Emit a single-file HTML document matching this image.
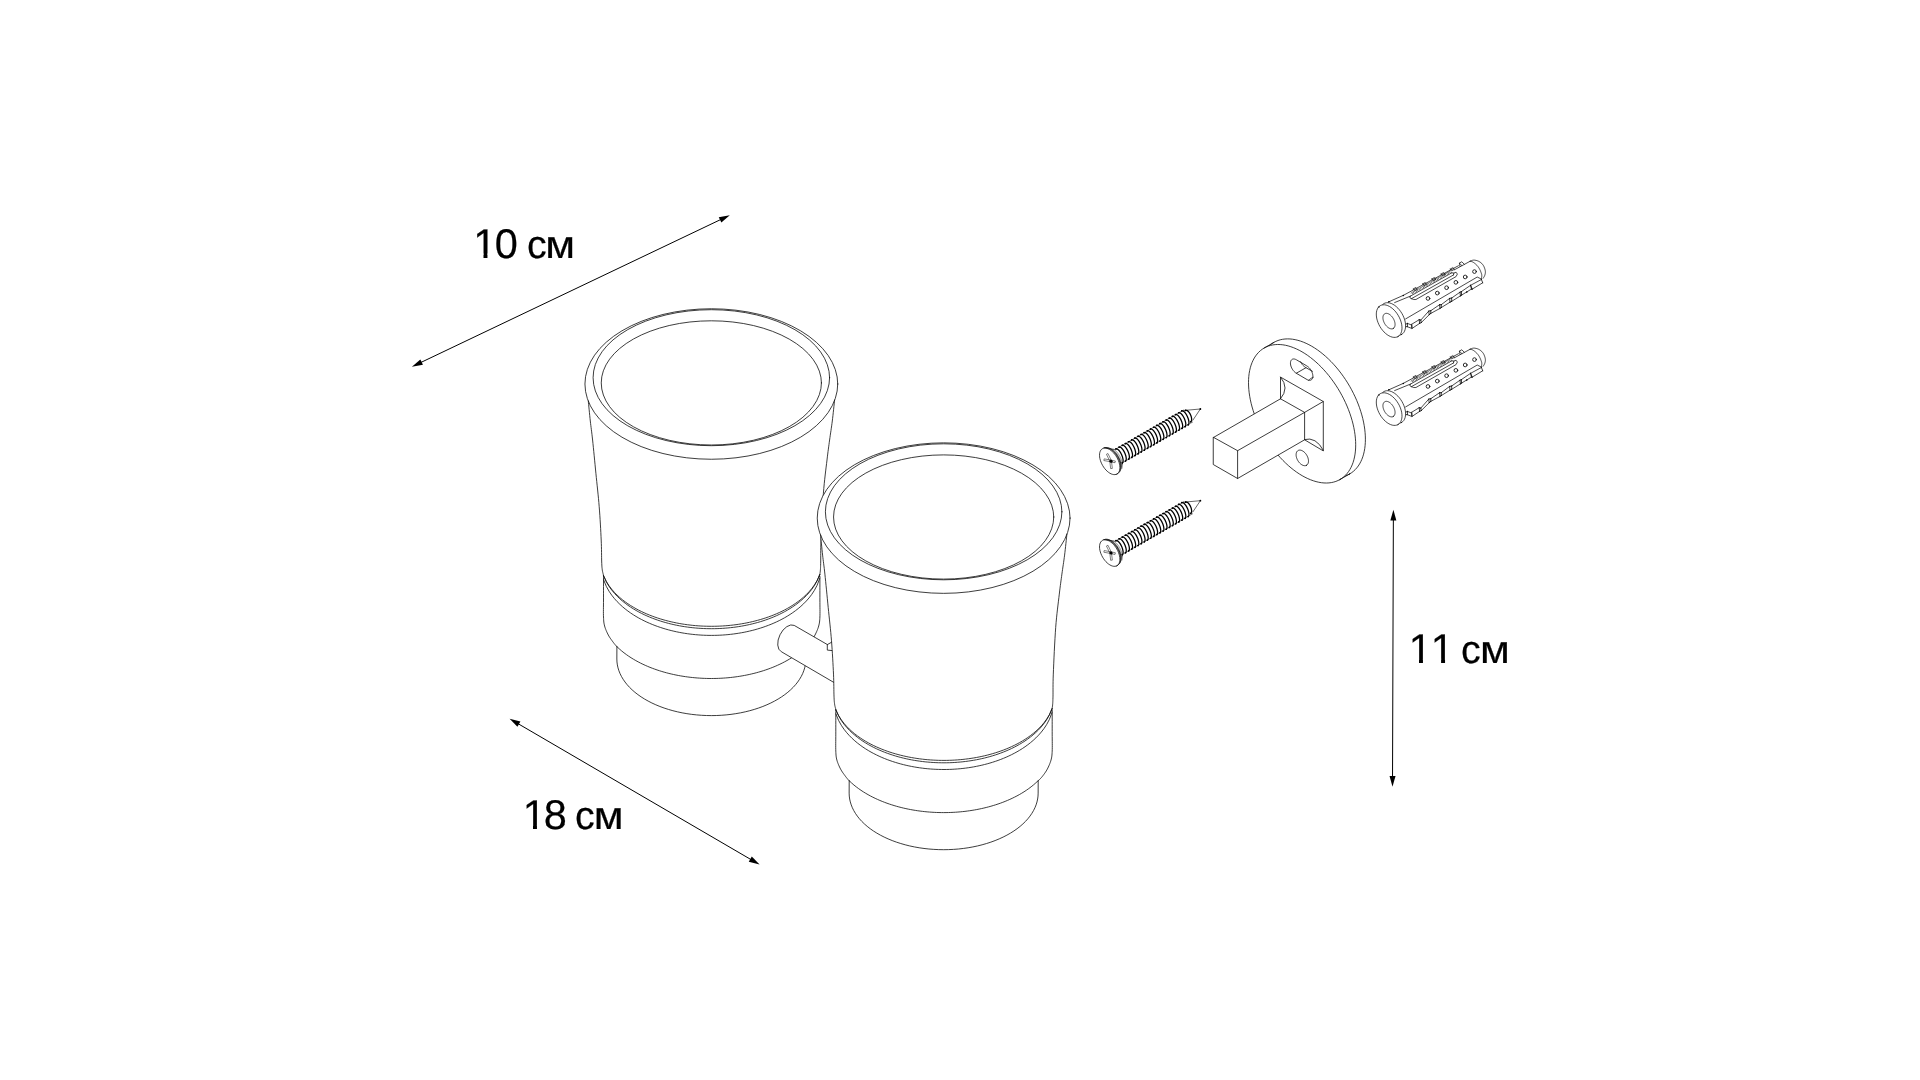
<!DOCTYPE html>
<html lang="ru">
<head>
<meta charset="utf-8">
<title>Держатель двух стаканов — схема</title>
<style>
html,body{margin:0;padding:0;background:#fff;}
body{width:1920px;height:1080px;overflow:hidden;font-family:"Liberation Sans",sans-serif;}
svg{display:block;}
</style>
</head>
<body>
<svg width="1920" height="1080" viewBox="0 0 1920 1080" stroke-linecap="round" stroke-linejoin="round">
<rect width="1920" height="1080" fill="#fff"/>
<g transform="translate(0,0)">
<ellipse cx="711.35" cy="384" rx="126.4" ry="75.25" fill="none" stroke="#111" stroke-width="0.82"/>
<ellipse cx="711.35" cy="377.7" rx="118.25" ry="68" fill="none" stroke="#111" stroke-width="0.82"/>
<ellipse cx="711.35" cy="382.9" rx="110.1" ry="62.1" fill="none" stroke="#111" stroke-width="0.82"/>
<path d="M588.3,401 L588.45,402.55 L588.65,404.62 L588.89,407.08 L589.16,409.81 L589.44,412.69 L589.73,415.6 L590.02,418.41 L590.3,421 L590.57,423.33 L590.83,425.49 L591.1,427.57 L591.37,429.67 L591.65,431.87 L591.95,434.27 L592.26,436.95 L592.6,440 L592.96,443.48 L593.35,447.32 L593.76,451.44 L594.19,455.75 L594.62,460.18 L595.05,464.63 L595.48,469.03 L595.9,473.3 L596.32,477.47 L596.76,481.65 L597.19,485.82 L597.63,490 L598.06,494.18 L598.47,498.35 L598.85,502.53 L599.2,506.7 L599.52,510.94 L599.83,515.3 L600.11,519.69 L600.38,524.06 L600.62,528.34 L600.84,532.47 L601.03,536.38 L601.2,540 L601.33,543.39 L601.43,546.62 L601.49,549.69 L601.54,552.58 L601.57,555.27 L601.6,557.75 L601.64,560 L601.7,562 L601.77,563.69 L601.83,565.05 L601.89,566.14 L601.96,567.04 L602.03,567.81 L602.11,568.52 L602.2,569.22 L602.3,570 L602.43,570.83 L602.59,571.64 L602.76,572.42 L602.94,573.15 L603.11,573.82 L603.27,574.41 L603.4,574.91 L603.5,575.3" fill="none" stroke="#111" stroke-width="0.82"/>
<path d="M834.6,400 L834.43,401.63 L834.2,403.82 L833.92,406.42 L833.62,409.31 L833.29,412.35 L832.96,415.4 L832.62,418.33 L832.3,421 L831.98,423.46 L831.65,425.87 L831.31,428.23 L830.97,430.56 L830.62,432.89 L830.28,435.23 L829.94,437.59 L829.6,440 L829.28,442.36 L828.97,444.62 L828.66,446.84 L828.36,449.11 L828.04,451.48 L827.72,454.04 L827.37,456.86 L827,460 L826.59,463.43 L826.14,467.08 L825.67,470.92 L825.19,474.98 L824.71,479.25 L824.24,483.72 L823.8,488.41 L823.4,493.3 L823.03,498.67 L822.67,504.61 L822.32,510.92 L821.99,517.36 L821.69,523.71 L821.42,529.75 L821.19,535.25 L821,540 L820.86,544.02 L820.78,547.54 L820.74,550.63 L820.73,553.36 L820.73,555.79 L820.73,557.99 L820.73,560.04 L820.7,562 L820.66,563.77 L820.62,565.25 L820.58,566.48 L820.54,567.53 L820.49,568.45 L820.44,569.3 L820.37,570.13 L820.3,571 L820.21,571.89 L820.09,572.75 L819.96,573.56 L819.82,574.31 L819.69,574.99 L819.57,575.59 L819.47,576.1 L819.4,576.5" fill="none" stroke="#111" stroke-width="0.82"/>
<path d="M603.5,575.3 L603.5,577.26 L603.5,579.92 L603.5,583.09 L603.5,586.59 L603.5,590.22 L603.5,593.79 L603.5,597.11 L603.5,600 L603.49,602.55 L603.47,604.98 L603.45,607.29 L603.43,609.48 L603.42,611.55 L603.42,613.49 L603.45,615.31 L603.5,617 L603.57,618.51 L603.64,619.81 L603.72,620.96 L603.82,622 L603.95,622.98 L604.12,623.94 L604.33,624.93 L604.6,626 L604.93,627.14 L605.32,628.3 L605.75,629.46 L606.23,630.62 L606.73,631.77 L607.24,632.89 L607.77,633.97 L608.3,635 L608.85,635.99 L609.42,636.94 L610.02,637.87 L610.64,638.76 L611.25,639.62 L611.86,640.45 L612.44,641.24 L613,642 L613.55,642.74 L614.12,643.47 L614.69,644.17 L615.24,644.84 L615.76,645.45 L616.22,645.99 L616.6,646.44 L616.9,646.8" fill="none" stroke="#111" stroke-width="0.82"/>
<path d="M819.9,576.5 L819.9,578.36 L819.9,580.88 L819.9,583.88 L819.9,587.19 L819.9,590.63 L819.9,594.03 L819.9,597.21 L819.9,600 L819.91,602.49 L819.93,604.89 L819.95,607.2 L819.97,609.41 L819.99,611.5 L819.98,613.46 L819.96,615.3 L819.9,617 L819.82,618.51 L819.74,619.81 L819.65,620.96 L819.53,622 L819.39,622.98 L819.2,623.94 L818.98,624.93 L818.7,626 L818.36,627.14 L817.97,628.3 L817.54,629.46 L817.07,630.62 L816.57,631.77 L816.05,632.89 L815.53,633.97 L815,635 L814.46,635.99 L813.89,636.94 L813.3,637.87 L812.69,638.76 L812.08,639.62 L811.48,640.45 L810.88,641.24 L810.3,642 L809.71,642.74 L809.08,643.47 L808.43,644.17 L807.81,644.84 L807.21,645.45 L806.68,645.99 L806.24,646.44 L805.9,646.8" fill="none" stroke="#111" stroke-width="0.82"/>
<path d="M603.5,575.67 L606.21,581.28 L608.91,585.57 L611.62,589.15 L614.32,592.25 L617.02,595 L619.73,597.47 L622.43,599.73 L625.14,601.8 L627.85,603.71 L630.55,605.49 L633.25,607.14 L635.96,608.69 L638.66,610.13 L641.37,611.48 L644.08,612.75 L646.78,613.94 L649.49,615.06 L652.19,616.11 L654.89,617.09 L657.6,618.01 L660.3,618.88 L663.01,619.68 L665.72,620.44 L668.42,621.14 L671.12,621.79 L673.83,622.39 L676.53,622.95 L679.24,623.46 L681.94,623.93 L684.65,624.35 L687.36,624.73 L690.06,625.06 L692.76,625.36 L695.47,625.61 L698.17,625.83 L700.88,626 L703.59,626.13 L706.29,626.23 L709,626.28 L711.7,626.3 L714.4,626.28 L717.11,626.21 L719.81,626.11 L722.52,625.97 L725.23,625.79 L727.93,625.57 L730.63,625.31 L733.34,625 L736.04,624.66 L738.75,624.27 L741.45,623.84 L744.16,623.37 L746.87,622.85 L749.57,622.29 L752.27,621.67 L754.98,621.01 L757.68,620.3 L760.39,619.54 L763.1,618.72 L765.8,617.85 L768.5,616.91 L771.21,615.92 L773.91,614.86 L776.62,613.73 L779.33,612.52 L782.03,611.24 L784.74,609.87 L787.44,608.41 L790.14,606.85 L792.85,605.17 L795.55,603.37 L798.26,601.43 L800.96,599.33 L803.67,597.03 L806.38,594.51 L809.08,591.7 L811.78,588.53 L814.49,584.84 L817.19,580.37 L819.9,574.37" fill="none" stroke="#111" stroke-width="0.82"/>
<path d="M603.7,576.04 L606.4,581.97 L609.1,586.47 L611.8,590.2 L614.5,593.43 L617.2,596.28 L619.9,598.85 L622.6,601.19 L625.3,603.34 L628,605.33 L630.7,607.17 L633.4,608.88 L636.1,610.48 L638.8,611.97 L641.5,613.37 L644.2,614.69 L646.9,615.92 L649.6,617.07 L652.3,618.16 L655,619.18 L657.7,620.13 L660.4,621.02 L663.1,621.86 L665.8,622.64 L668.5,623.36 L671.2,624.04 L673.9,624.66 L676.6,625.24 L679.3,625.76 L682,626.25 L684.7,626.68 L687.4,627.07 L690.1,627.42 L692.8,627.73 L695.5,627.99 L698.2,628.21 L700.9,628.39 L703.6,628.53 L706.3,628.63 L709,628.68 L711.7,628.7 L714.4,628.68 L717.1,628.61 L719.8,628.51 L722.5,628.36 L725.2,628.17 L727.9,627.94 L730.6,627.67 L733.3,627.36 L736,627 L738.7,626.6 L741.4,626.16 L744.1,625.67 L746.8,625.13 L749.5,624.55 L752.2,623.92 L754.9,623.23 L757.6,622.5 L760.3,621.71 L763,620.86 L765.7,619.96 L768.4,618.99 L771.1,617.96 L773.8,616.86 L776.5,615.69 L779.2,614.45 L781.9,613.12 L784.6,611.7 L787.3,610.19 L790,608.57 L792.7,606.84 L795.4,604.97 L798.1,602.96 L800.8,600.78 L803.5,598.4 L806.2,595.78 L808.9,592.86 L811.6,589.55 L814.3,585.71 L817,581.01 L819.7,574.64" fill="none" stroke="#111" stroke-width="0.82"/>
<path d="M603.6,579.78 L606.3,586.35 L609,591.19 L611.71,595.16 L614.41,598.57 L617.11,601.58 L619.82,604.28 L622.52,606.74 L625.22,608.99 L627.92,611.06 L630.62,612.98 L633.33,614.77 L636.03,616.44 L638.73,618 L641.44,619.46 L644.14,620.82 L646.84,622.11 L649.54,623.31 L652.25,624.44 L654.95,625.5 L657.65,626.49 L660.35,627.42 L663.06,628.29 L665.76,629.1 L668.46,629.85 L671.16,630.55 L673.87,631.2 L676.57,631.8 L679.27,632.35 L681.97,632.85 L684.67,633.3 L687.38,633.71 L690.08,634.07 L692.78,634.39 L695.49,634.66 L698.19,634.89 L700.89,635.08 L703.59,635.22 L706.29,635.32 L709,635.38 L711.7,635.4 L714.4,635.37 L717.11,635.31 L719.81,635.2 L722.51,635.05 L725.21,634.85 L727.91,634.61 L730.62,634.33 L733.32,634.01 L736.02,633.64 L738.72,633.22 L741.43,632.76 L744.13,632.25 L746.83,631.69 L749.53,631.09 L752.24,630.43 L754.94,629.72 L757.64,628.95 L760.35,628.13 L763.05,627.25 L765.75,626.31 L768.45,625.31 L771.15,624.24 L773.86,623.09 L776.56,621.88 L779.26,620.58 L781.96,619.19 L784.67,617.72 L787.37,616.14 L790.07,614.45 L792.77,612.64 L795.48,610.69 L798.18,608.58 L800.88,606.3 L803.59,603.8 L806.29,601.05 L808.99,597.98 L811.69,594.48 L814.39,590.38 L817.1,585.31 L819.8,578.17" fill="none" stroke="#111" stroke-width="0.82"/>
<path d="M616.9,646.61 L619.26,648.84 L621.62,650.9 L623.99,652.8 L626.35,654.56 L628.71,656.21 L631.07,657.76 L633.44,659.21 L635.8,660.58 L638.16,661.87 L640.52,663.09 L642.89,664.24 L645.25,665.33 L647.61,666.36 L649.98,667.33 L652.34,668.25 L654.7,669.12 L657.06,669.95 L659.42,670.72 L661.79,671.46 L664.15,672.15 L666.51,672.8 L668.88,673.41 L671.24,673.98 L673.6,674.51 L675.96,675.01 L678.32,675.47 L680.69,675.9 L683.05,676.29 L685.41,676.65 L687.77,676.97 L690.14,677.27 L692.5,677.53 L694.86,677.76 L697.23,677.96 L699.59,678.12 L701.95,678.26 L704.31,678.37 L706.67,678.44 L709.04,678.49 L711.4,678.5 L713.76,678.48 L716.12,678.44 L718.49,678.36 L720.85,678.25 L723.21,678.12 L725.57,677.95 L727.94,677.75 L730.3,677.52 L732.66,677.26 L735.02,676.96 L737.39,676.63 L739.75,676.27 L742.11,675.88 L744.48,675.45 L746.84,674.99 L749.2,674.49 L751.56,673.95 L753.92,673.38 L756.29,672.77 L758.65,672.12 L761.01,671.43 L763.38,670.69 L765.74,669.91 L768.1,669.09 L770.46,668.22 L772.83,667.29 L775.19,666.32 L777.55,665.28 L779.91,664.19 L782.27,663.04 L784.64,661.82 L787,660.53 L789.36,659.15 L791.72,657.7 L794.09,656.15 L796.45,654.49 L798.81,652.72 L801.17,650.81 L803.54,648.75 L805.9,646.51" fill="none" stroke="#111" stroke-width="0.82"/>
<path d="M616.9,646.8 L616.85,659 L616.98,661.96 L617.37,664.92 L618.01,667.85 L618.92,670.77 L620.07,673.65 L621.48,676.49 L623.13,679.28 L625.02,682.02 L627.15,684.7 L629.51,687.3 L632.1,689.83 L634.9,692.27 L637.91,694.62 L641.12,696.87 L644.53,699.02 L648.12,701.06 L651.88,702.99 L655.8,704.79 L659.88,706.47 L664.1,708.02 L668.45,709.43 L672.91,710.71 L677.48,711.84 L682.15,712.83 L686.89,713.67 L691.7,714.36 L696.57,714.9 L701.47,715.29 L706.4,715.52 L711.35,715.6 L716.3,715.52 L721.23,715.29 L726.13,714.9 L731,714.36 L735.81,713.67 L740.55,712.83 L745.22,711.84 L749.79,710.71 L754.25,709.43 L758.6,708.02 L762.82,706.47 L766.9,704.79 L770.82,702.99 L774.58,701.06 L778.17,699.02 L781.58,696.87 L784.79,694.62 L787.8,692.27 L790.6,689.83 L793.19,687.3 L795.55,684.7 L797.68,682.02 L799.57,679.28 L801.22,676.49 L802.63,673.65 L803.78,670.77 L804.69,667.85 L805.33,664.92 L805.72,661.96 L805.85,659 L805.9,646.8" fill="none" stroke="#111" stroke-width="0.82"/>
</g>
<path d="M794.2,625.4 A14.65,8.8 116.1 0 0 781.3,651.7 L845,688.8 L845,655 Z" fill="#fff" stroke="none"/>
<path d="M827.4,644.6 L794.2,625.4 A14.65,8.8 116.1 0 0 781.3,651.7 L835,683.1" fill="none" stroke="#111" stroke-width="0.82"/>
<path d="M831.8,642.1 L827.3,644.6 L827.3,650.1 L832.5,650.6" fill="none" stroke="#111" stroke-width="0.82"/>
<g transform="translate(232.3,134.1)">
<path d="M588.3,401 L588.45,402.55 L588.65,404.62 L588.89,407.08 L589.16,409.81 L589.44,412.69 L589.73,415.6 L590.02,418.41 L590.3,421 L590.57,423.33 L590.83,425.49 L591.1,427.57 L591.37,429.67 L591.65,431.87 L591.95,434.27 L592.26,436.95 L592.6,440 L592.96,443.48 L593.35,447.32 L593.76,451.44 L594.19,455.75 L594.62,460.18 L595.05,464.63 L595.48,469.03 L595.9,473.3 L596.32,477.47 L596.76,481.65 L597.19,485.82 L597.63,490 L598.06,494.18 L598.47,498.35 L598.85,502.53 L599.2,506.7 L599.52,510.94 L599.83,515.3 L600.11,519.69 L600.38,524.06 L600.62,528.34 L600.84,532.47 L601.03,536.38 L601.2,540 L601.33,543.39 L601.43,546.62 L601.49,549.69 L601.54,552.58 L601.57,555.27 L601.6,557.75 L601.64,560 L601.7,562 L601.77,563.69 L601.83,565.05 L601.89,566.14 L601.96,567.04 L602.03,567.81 L602.11,568.52 L602.2,569.22 L602.3,570 L602.43,570.83 L602.59,571.64 L602.76,572.42 L602.94,573.15 L603.11,573.82 L603.27,574.41 L603.4,574.91 L603.5,575.3 L603.5,577.26 L603.5,579.92 L603.5,583.09 L603.5,586.59 L603.5,590.22 L603.5,593.79 L603.5,597.11 L603.5,600 L603.49,602.55 L603.47,604.98 L603.45,607.29 L603.43,609.48 L603.42,611.55 L603.42,613.49 L603.45,615.31 L603.5,617 L603.57,618.51 L603.64,619.81 L603.72,620.96 L603.82,622 L603.95,622.98 L604.12,623.94 L604.33,624.93 L604.6,626 L604.93,627.14 L605.32,628.3 L605.75,629.46 L606.23,630.62 L606.73,631.77 L607.24,632.89 L607.77,633.97 L608.3,635 L608.85,635.99 L609.42,636.94 L610.02,637.87 L610.64,638.76 L611.25,639.62 L611.86,640.45 L612.44,641.24 L613,642 L613.55,642.74 L614.12,643.47 L614.69,644.17 L615.24,644.84 L615.76,645.45 L616.22,645.99 L616.6,646.44 L616.9,646.8 L616.85,659 L616.98,661.96 L617.37,664.92 L618.01,667.85 L618.92,670.77 L620.07,673.65 L621.48,676.49 L623.13,679.28 L625.02,682.02 L627.15,684.7 L629.51,687.3 L632.1,689.83 L634.9,692.27 L637.91,694.62 L641.12,696.87 L644.53,699.02 L648.12,701.06 L651.88,702.99 L655.8,704.79 L659.88,706.47 L664.1,708.02 L668.45,709.43 L672.91,710.71 L677.48,711.84 L682.15,712.83 L686.89,713.67 L691.7,714.36 L696.57,714.9 L701.47,715.29 L706.4,715.52 L711.35,715.6 L716.3,715.52 L721.23,715.29 L726.13,714.9 L731,714.36 L735.81,713.67 L740.55,712.83 L745.22,711.84 L749.79,710.71 L754.25,709.43 L758.6,708.02 L762.82,706.47 L766.9,704.79 L770.82,702.99 L774.58,701.06 L778.17,699.02 L781.58,696.87 L784.79,694.62 L787.8,692.27 L790.6,689.83 L793.19,687.3 L795.55,684.7 L797.68,682.02 L799.57,679.28 L801.22,676.49 L802.63,673.65 L803.78,670.77 L804.69,667.85 L805.33,664.92 L805.72,661.96 L805.85,659 L805.9,646.8 L806.24,646.44 L806.68,645.99 L807.21,645.45 L807.81,644.84 L808.43,644.17 L809.08,643.47 L809.71,642.74 L810.3,642 L810.88,641.24 L811.48,640.45 L812.08,639.62 L812.69,638.76 L813.3,637.87 L813.89,636.94 L814.46,635.99 L815,635 L815.53,633.97 L816.05,632.89 L816.57,631.77 L817.07,630.62 L817.54,629.46 L817.97,628.3 L818.36,627.14 L818.7,626 L818.98,624.93 L819.2,623.94 L819.39,622.98 L819.53,622 L819.65,620.96 L819.74,619.81 L819.82,618.51 L819.9,617 L819.96,615.3 L819.98,613.46 L819.99,611.5 L819.97,609.41 L819.95,607.2 L819.93,604.89 L819.91,602.49 L819.9,600 L819.9,597.21 L819.9,594.03 L819.9,590.63 L819.9,587.19 L819.9,583.88 L819.9,580.88 L819.9,578.36 L819.9,576.5 L819.4,576.5 L819.47,576.1 L819.57,575.59 L819.69,574.99 L819.82,574.31 L819.96,573.56 L820.09,572.75 L820.21,571.89 L820.3,571 L820.37,570.13 L820.44,569.3 L820.49,568.45 L820.54,567.53 L820.58,566.48 L820.62,565.25 L820.66,563.77 L820.7,562 L820.73,560.04 L820.73,557.99 L820.73,555.79 L820.73,553.36 L820.74,550.63 L820.78,547.54 L820.86,544.02 L821,540 L821.19,535.25 L821.42,529.75 L821.69,523.71 L821.99,517.36 L822.32,510.92 L822.67,504.61 L823.03,498.67 L823.4,493.3 L823.8,488.41 L824.24,483.72 L824.71,479.25 L825.19,474.98 L825.67,470.92 L826.14,467.08 L826.59,463.43 L827,460 L827.37,456.86 L827.72,454.04 L828.04,451.48 L828.36,449.11 L828.66,446.84 L828.97,444.62 L829.28,442.36 L829.6,440 L829.94,437.59 L830.28,435.23 L830.62,432.89 L830.97,430.56 L831.31,428.23 L831.65,425.87 L831.98,423.46 L832.3,421 L832.62,418.33 L832.96,415.4 L833.29,412.35 L833.62,409.31 L833.92,406.42 L834.2,403.82 L834.43,401.63 L834.6,400Z" fill="#fff" stroke="none"/>
<ellipse cx="711.35" cy="384" rx="126.4" ry="75.25" fill="#fff" stroke="#111" stroke-width="0.82"/>
<ellipse cx="711.35" cy="377.7" rx="118.25" ry="68" fill="none" stroke="#111" stroke-width="0.82"/>
<ellipse cx="711.35" cy="382.9" rx="110.1" ry="62.1" fill="none" stroke="#111" stroke-width="0.82"/>
<path d="M588.3,401 L588.45,402.55 L588.65,404.62 L588.89,407.08 L589.16,409.81 L589.44,412.69 L589.73,415.6 L590.02,418.41 L590.3,421 L590.57,423.33 L590.83,425.49 L591.1,427.57 L591.37,429.67 L591.65,431.87 L591.95,434.27 L592.26,436.95 L592.6,440 L592.96,443.48 L593.35,447.32 L593.76,451.44 L594.19,455.75 L594.62,460.18 L595.05,464.63 L595.48,469.03 L595.9,473.3 L596.32,477.47 L596.76,481.65 L597.19,485.82 L597.63,490 L598.06,494.18 L598.47,498.35 L598.85,502.53 L599.2,506.7 L599.52,510.94 L599.83,515.3 L600.11,519.69 L600.38,524.06 L600.62,528.34 L600.84,532.47 L601.03,536.38 L601.2,540 L601.33,543.39 L601.43,546.62 L601.49,549.69 L601.54,552.58 L601.57,555.27 L601.6,557.75 L601.64,560 L601.7,562 L601.77,563.69 L601.83,565.05 L601.89,566.14 L601.96,567.04 L602.03,567.81 L602.11,568.52 L602.2,569.22 L602.3,570 L602.43,570.83 L602.59,571.64 L602.76,572.42 L602.94,573.15 L603.11,573.82 L603.27,574.41 L603.4,574.91 L603.5,575.3" fill="none" stroke="#111" stroke-width="0.82"/>
<path d="M834.6,400 L834.43,401.63 L834.2,403.82 L833.92,406.42 L833.62,409.31 L833.29,412.35 L832.96,415.4 L832.62,418.33 L832.3,421 L831.98,423.46 L831.65,425.87 L831.31,428.23 L830.97,430.56 L830.62,432.89 L830.28,435.23 L829.94,437.59 L829.6,440 L829.28,442.36 L828.97,444.62 L828.66,446.84 L828.36,449.11 L828.04,451.48 L827.72,454.04 L827.37,456.86 L827,460 L826.59,463.43 L826.14,467.08 L825.67,470.92 L825.19,474.98 L824.71,479.25 L824.24,483.72 L823.8,488.41 L823.4,493.3 L823.03,498.67 L822.67,504.61 L822.32,510.92 L821.99,517.36 L821.69,523.71 L821.42,529.75 L821.19,535.25 L821,540 L820.86,544.02 L820.78,547.54 L820.74,550.63 L820.73,553.36 L820.73,555.79 L820.73,557.99 L820.73,560.04 L820.7,562 L820.66,563.77 L820.62,565.25 L820.58,566.48 L820.54,567.53 L820.49,568.45 L820.44,569.3 L820.37,570.13 L820.3,571 L820.21,571.89 L820.09,572.75 L819.96,573.56 L819.82,574.31 L819.69,574.99 L819.57,575.59 L819.47,576.1 L819.4,576.5" fill="none" stroke="#111" stroke-width="0.82"/>
<path d="M603.5,575.3 L603.5,577.26 L603.5,579.92 L603.5,583.09 L603.5,586.59 L603.5,590.22 L603.5,593.79 L603.5,597.11 L603.5,600 L603.49,602.55 L603.47,604.98 L603.45,607.29 L603.43,609.48 L603.42,611.55 L603.42,613.49 L603.45,615.31 L603.5,617 L603.57,618.51 L603.64,619.81 L603.72,620.96 L603.82,622 L603.95,622.98 L604.12,623.94 L604.33,624.93 L604.6,626 L604.93,627.14 L605.32,628.3 L605.75,629.46 L606.23,630.62 L606.73,631.77 L607.24,632.89 L607.77,633.97 L608.3,635 L608.85,635.99 L609.42,636.94 L610.02,637.87 L610.64,638.76 L611.25,639.62 L611.86,640.45 L612.44,641.24 L613,642 L613.55,642.74 L614.12,643.47 L614.69,644.17 L615.24,644.84 L615.76,645.45 L616.22,645.99 L616.6,646.44 L616.9,646.8" fill="none" stroke="#111" stroke-width="0.82"/>
<path d="M819.9,576.5 L819.9,578.36 L819.9,580.88 L819.9,583.88 L819.9,587.19 L819.9,590.63 L819.9,594.03 L819.9,597.21 L819.9,600 L819.91,602.49 L819.93,604.89 L819.95,607.2 L819.97,609.41 L819.99,611.5 L819.98,613.46 L819.96,615.3 L819.9,617 L819.82,618.51 L819.74,619.81 L819.65,620.96 L819.53,622 L819.39,622.98 L819.2,623.94 L818.98,624.93 L818.7,626 L818.36,627.14 L817.97,628.3 L817.54,629.46 L817.07,630.62 L816.57,631.77 L816.05,632.89 L815.53,633.97 L815,635 L814.46,635.99 L813.89,636.94 L813.3,637.87 L812.69,638.76 L812.08,639.62 L811.48,640.45 L810.88,641.24 L810.3,642 L809.71,642.74 L809.08,643.47 L808.43,644.17 L807.81,644.84 L807.21,645.45 L806.68,645.99 L806.24,646.44 L805.9,646.8" fill="none" stroke="#111" stroke-width="0.82"/>
<path d="M603.5,575.67 L606.21,581.28 L608.91,585.57 L611.62,589.15 L614.32,592.25 L617.02,595 L619.73,597.47 L622.43,599.73 L625.14,601.8 L627.85,603.71 L630.55,605.49 L633.25,607.14 L635.96,608.69 L638.66,610.13 L641.37,611.48 L644.08,612.75 L646.78,613.94 L649.49,615.06 L652.19,616.11 L654.89,617.09 L657.6,618.01 L660.3,618.88 L663.01,619.68 L665.72,620.44 L668.42,621.14 L671.12,621.79 L673.83,622.39 L676.53,622.95 L679.24,623.46 L681.94,623.93 L684.65,624.35 L687.36,624.73 L690.06,625.06 L692.76,625.36 L695.47,625.61 L698.17,625.83 L700.88,626 L703.59,626.13 L706.29,626.23 L709,626.28 L711.7,626.3 L714.4,626.28 L717.11,626.21 L719.81,626.11 L722.52,625.97 L725.23,625.79 L727.93,625.57 L730.63,625.31 L733.34,625 L736.04,624.66 L738.75,624.27 L741.45,623.84 L744.16,623.37 L746.87,622.85 L749.57,622.29 L752.27,621.67 L754.98,621.01 L757.68,620.3 L760.39,619.54 L763.1,618.72 L765.8,617.85 L768.5,616.91 L771.21,615.92 L773.91,614.86 L776.62,613.73 L779.33,612.52 L782.03,611.24 L784.74,609.87 L787.44,608.41 L790.14,606.85 L792.85,605.17 L795.55,603.37 L798.26,601.43 L800.96,599.33 L803.67,597.03 L806.38,594.51 L809.08,591.7 L811.78,588.53 L814.49,584.84 L817.19,580.37 L819.9,574.37" fill="none" stroke="#111" stroke-width="0.82"/>
<path d="M603.7,576.04 L606.4,581.97 L609.1,586.47 L611.8,590.2 L614.5,593.43 L617.2,596.28 L619.9,598.85 L622.6,601.19 L625.3,603.34 L628,605.33 L630.7,607.17 L633.4,608.88 L636.1,610.48 L638.8,611.97 L641.5,613.37 L644.2,614.69 L646.9,615.92 L649.6,617.07 L652.3,618.16 L655,619.18 L657.7,620.13 L660.4,621.02 L663.1,621.86 L665.8,622.64 L668.5,623.36 L671.2,624.04 L673.9,624.66 L676.6,625.24 L679.3,625.76 L682,626.25 L684.7,626.68 L687.4,627.07 L690.1,627.42 L692.8,627.73 L695.5,627.99 L698.2,628.21 L700.9,628.39 L703.6,628.53 L706.3,628.63 L709,628.68 L711.7,628.7 L714.4,628.68 L717.1,628.61 L719.8,628.51 L722.5,628.36 L725.2,628.17 L727.9,627.94 L730.6,627.67 L733.3,627.36 L736,627 L738.7,626.6 L741.4,626.16 L744.1,625.67 L746.8,625.13 L749.5,624.55 L752.2,623.92 L754.9,623.23 L757.6,622.5 L760.3,621.71 L763,620.86 L765.7,619.96 L768.4,618.99 L771.1,617.96 L773.8,616.86 L776.5,615.69 L779.2,614.45 L781.9,613.12 L784.6,611.7 L787.3,610.19 L790,608.57 L792.7,606.84 L795.4,604.97 L798.1,602.96 L800.8,600.78 L803.5,598.4 L806.2,595.78 L808.9,592.86 L811.6,589.55 L814.3,585.71 L817,581.01 L819.7,574.64" fill="none" stroke="#111" stroke-width="0.82"/>
<path d="M603.6,579.78 L606.3,586.35 L609,591.19 L611.71,595.16 L614.41,598.57 L617.11,601.58 L619.82,604.28 L622.52,606.74 L625.22,608.99 L627.92,611.06 L630.62,612.98 L633.33,614.77 L636.03,616.44 L638.73,618 L641.44,619.46 L644.14,620.82 L646.84,622.11 L649.54,623.31 L652.25,624.44 L654.95,625.5 L657.65,626.49 L660.35,627.42 L663.06,628.29 L665.76,629.1 L668.46,629.85 L671.16,630.55 L673.87,631.2 L676.57,631.8 L679.27,632.35 L681.97,632.85 L684.67,633.3 L687.38,633.71 L690.08,634.07 L692.78,634.39 L695.49,634.66 L698.19,634.89 L700.89,635.08 L703.59,635.22 L706.29,635.32 L709,635.38 L711.7,635.4 L714.4,635.37 L717.11,635.31 L719.81,635.2 L722.51,635.05 L725.21,634.85 L727.91,634.61 L730.62,634.33 L733.32,634.01 L736.02,633.64 L738.72,633.22 L741.43,632.76 L744.13,632.25 L746.83,631.69 L749.53,631.09 L752.24,630.43 L754.94,629.72 L757.64,628.95 L760.35,628.13 L763.05,627.25 L765.75,626.31 L768.45,625.31 L771.15,624.24 L773.86,623.09 L776.56,621.88 L779.26,620.58 L781.96,619.19 L784.67,617.72 L787.37,616.14 L790.07,614.45 L792.77,612.64 L795.48,610.69 L798.18,608.58 L800.88,606.3 L803.59,603.8 L806.29,601.05 L808.99,597.98 L811.69,594.48 L814.39,590.38 L817.1,585.31 L819.8,578.17" fill="none" stroke="#111" stroke-width="0.82"/>
<path d="M616.9,646.61 L619.26,648.84 L621.62,650.9 L623.99,652.8 L626.35,654.56 L628.71,656.21 L631.07,657.76 L633.44,659.21 L635.8,660.58 L638.16,661.87 L640.52,663.09 L642.89,664.24 L645.25,665.33 L647.61,666.36 L649.98,667.33 L652.34,668.25 L654.7,669.12 L657.06,669.95 L659.42,670.72 L661.79,671.46 L664.15,672.15 L666.51,672.8 L668.88,673.41 L671.24,673.98 L673.6,674.51 L675.96,675.01 L678.32,675.47 L680.69,675.9 L683.05,676.29 L685.41,676.65 L687.77,676.97 L690.14,677.27 L692.5,677.53 L694.86,677.76 L697.23,677.96 L699.59,678.12 L701.95,678.26 L704.31,678.37 L706.67,678.44 L709.04,678.49 L711.4,678.5 L713.76,678.48 L716.12,678.44 L718.49,678.36 L720.85,678.25 L723.21,678.12 L725.57,677.95 L727.94,677.75 L730.3,677.52 L732.66,677.26 L735.02,676.96 L737.39,676.63 L739.75,676.27 L742.11,675.88 L744.48,675.45 L746.84,674.99 L749.2,674.49 L751.56,673.95 L753.92,673.38 L756.29,672.77 L758.65,672.12 L761.01,671.43 L763.38,670.69 L765.74,669.91 L768.1,669.09 L770.46,668.22 L772.83,667.29 L775.19,666.32 L777.55,665.28 L779.91,664.19 L782.27,663.04 L784.64,661.82 L787,660.53 L789.36,659.15 L791.72,657.7 L794.09,656.15 L796.45,654.49 L798.81,652.72 L801.17,650.81 L803.54,648.75 L805.9,646.51" fill="none" stroke="#111" stroke-width="0.82"/>
<path d="M616.9,646.8 L616.85,659 L616.98,661.96 L617.37,664.92 L618.01,667.85 L618.92,670.77 L620.07,673.65 L621.48,676.49 L623.13,679.28 L625.02,682.02 L627.15,684.7 L629.51,687.3 L632.1,689.83 L634.9,692.27 L637.91,694.62 L641.12,696.87 L644.53,699.02 L648.12,701.06 L651.88,702.99 L655.8,704.79 L659.88,706.47 L664.1,708.02 L668.45,709.43 L672.91,710.71 L677.48,711.84 L682.15,712.83 L686.89,713.67 L691.7,714.36 L696.57,714.9 L701.47,715.29 L706.4,715.52 L711.35,715.6 L716.3,715.52 L721.23,715.29 L726.13,714.9 L731,714.36 L735.81,713.67 L740.55,712.83 L745.22,711.84 L749.79,710.71 L754.25,709.43 L758.6,708.02 L762.82,706.47 L766.9,704.79 L770.82,702.99 L774.58,701.06 L778.17,699.02 L781.58,696.87 L784.79,694.62 L787.8,692.27 L790.6,689.83 L793.19,687.3 L795.55,684.7 L797.68,682.02 L799.57,679.28 L801.22,676.49 L802.63,673.65 L803.78,670.77 L804.69,667.85 L805.33,664.92 L805.72,661.96 L805.85,659 L805.9,646.8" fill="none" stroke="#111" stroke-width="0.82"/>
</g>
<line x1="419.7" y1="363.03" x2="722" y2="218.92" stroke="#000" stroke-width="1"/>
<polygon points="411.9,366.75 422.94,364.81 420.36,359.39" fill="#000"/>
<polygon points="729.8,215.2 721.34,222.56 718.76,217.14" fill="#000"/>
<line x1="517.06" y1="723.1" x2="752.14" y2="860.25" stroke="#000" stroke-width="1"/>
<polygon points="509.6,718.75 517.42,726.78 520.44,721.6" fill="#000"/>
<polygon points="759.6,864.6 748.76,861.75 751.78,856.57" fill="#000"/>
<line x1="1393.37" y1="518.44" x2="1392.53" y2="778.11" stroke="#000" stroke-width="1"/>
<polygon points="1393.4,509.8 1390.36,520.59 1396.36,520.61" fill="#000"/>
<polygon points="1392.5,786.75 1389.54,775.94 1395.54,775.96" fill="#000"/>
<g style="filter:grayscale(1)">
<clipPath id="c1"><path d="M0,0H1920V1080H0Z M475.36,253.6H483.49V258.9H475.36Z M487.45,253.6H495.25V258.9H487.45Z" clip-rule="evenodd"/></clipPath>
<text y="257.9" x="473.2 494.66 517" font-family="'Liberation Sans', sans-serif" font-size="41.5" fill="#000" clip-path="url(#c1)" stroke="#000" stroke-width="0.22" stroke-linejoin="miter" text-rendering="geometricPrecision">10 <tspan font-size="39.4" x="526.93">с</tspan><tspan font-size="39.4" x="545.39" textLength="29.8" lengthAdjust="spacingAndGlyphs">м</tspan></text>
<clipPath id="c2"><path d="M0,0H1920V1080H0Z M524.86,824.7H532.99V830H524.86Z M536.95,824.7H544.75V830H536.95Z" clip-rule="evenodd"/></clipPath>
<text y="829" x="522.7 543.81 566" font-family="'Liberation Sans', sans-serif" font-size="41.5" fill="#000" clip-path="url(#c2)" stroke="#000" stroke-width="0.22" stroke-linejoin="miter" text-rendering="geometricPrecision">18 <tspan font-size="39.4" x="575.03">с</tspan><tspan font-size="39.4" x="593.89" textLength="29.8" lengthAdjust="spacingAndGlyphs">м</tspan></text>
<clipPath id="c3"><path d="M0,0H1920V1080H0Z M1410.86,658.6H1418.99V663.9H1410.86Z M1422.95,658.6H1430.75V663.9H1422.95Z M1432.96,658.6H1441.09V663.9H1432.96Z M1445.05,658.6H1452.85V663.9H1445.05Z" clip-rule="evenodd"/></clipPath>
<text y="662.9" x="1408.7 1430.8 1452" font-family="'Liberation Sans', sans-serif" font-size="41.5" fill="#000" clip-path="url(#c3)" stroke="#000" stroke-width="0.22" stroke-linejoin="miter" text-rendering="geometricPrecision">11 <tspan font-size="39.4" x="1460.88">с</tspan><tspan font-size="39.4" x="1480.09" textLength="29.8" lengthAdjust="spacingAndGlyphs">м</tspan></text>
</g>
<g transform="translate(0,0)">
<path d="M1118.17,473.03 L1118.87,472.54 L1119.48,471.91 L1119.99,471.17 L1120.41,470.31 L1120.72,469.34 L1120.93,468.27 L1121.02,467.13 L1121.01,465.91 L1120.89,464.63 L1120.66,463.31 L1120.33,461.95 L1119.89,460.59 L1119.35,459.22 L1118.73,457.87 L1118.01,456.55 L1117.23,455.27 L1116.37,454.05 L1115.45,452.91 L1114.49,451.85 L1113.49,450.88 L1112.46,450.02 L1111.41,449.27 L1110.36,448.65 L1109.32,448.17 L1108.29,447.81 L1107.3,447.6 L1106.34,447.53 L1105.44,447.6 L1104.6,447.82 L1103.82,448.17" fill="none" stroke="#000" stroke-width="0.8"/>
<path d="M1117.64,473.51 L1118.34,473.01 L1118.95,472.39 L1119.47,471.63 L1119.89,470.76 L1120.2,469.79 L1120.41,468.71 L1120.5,467.56 L1120.49,466.32 L1120.36,465.03 L1120.13,463.7 L1119.79,462.33 L1119.35,460.95 L1118.8,459.57 L1118.17,458.21 L1117.45,456.88 L1116.65,455.58 L1115.79,454.35 L1114.87,453.19 L1113.89,452.12 L1112.88,451.14 L1111.84,450.27 L1110.79,449.52 L1109.73,448.89 L1108.68,448.4 L1107.64,448.04 L1106.64,447.82 L1105.68,447.75 L1104.77,447.82 L1103.92,448.04 L1103.14,448.39" fill="none" stroke="#000" stroke-width="0.5"/>
<path d="M1117,473.99 L1117.86,473.35 L1118.59,472.5 L1119.16,471.46 L1119.57,470.25 L1119.81,468.89 L1119.88,467.39 L1119.78,465.79 L1119.5,464.12 L1119.05,462.4 L1118.45,460.66 L1117.69,458.94 L1116.8,457.25 L1115.79,455.63 L1114.67,454.12 L1113.47,452.72 L1112.2,451.48 L1110.89,450.4 L1109.56,449.51 L1108.23,448.82 L1106.93,448.35 L1105.67,448.1 L1104.49,448.08 L1103.39,448.28 L1102.4,448.71 L1101.54,449.35 L1100.81,450.2 L1100.24,451.24 L1099.83,452.45 L1099.59,453.81 L1099.52,455.31 L1099.62,456.91 L1099.9,458.58 L1100.35,460.3 L1100.95,462.04 L1101.71,463.76 L1102.6,465.45 L1103.61,467.07 L1104.73,468.58 L1105.93,469.98 L1107.2,471.22 L1108.51,472.3 L1109.84,473.19 L1111.17,473.88 L1112.47,474.35 L1113.73,474.6 L1114.91,474.62 L1116.01,474.42 L1117,473.99Z" fill="#fff" stroke="#000" stroke-width="0.75"/>
<path d="M1120.56,468.69 L1120.77,467.97 L1120.87,467.1 L1120.84,466.1 L1120.69,464.97 L1120.41,463.74 L1120.03,462.43 L1119.53,461.06 L1118.94,459.66 L1118.25,458.25 L1117.49,456.85 L1116.66,455.49 L1115.78,454.19 L1114.86,452.98 L1113.93,451.87 L1112.99,450.88 L1112.06,450.03 L1111.16,449.33 L1110.3,448.8 L1109.5,448.45 L1108.78,448.28" fill="none" stroke="#222" stroke-width="0.45"/>
<path d="M1121.13,466.57 L1121.32,465.95 L1121.4,465.2 L1121.37,464.32 L1121.24,463.34 L1121,462.27 L1120.67,461.14 L1120.24,459.95 L1119.72,458.73 L1119.12,457.51 L1118.46,456.29 L1117.74,455.11 L1116.98,453.98 L1116.18,452.92 L1115.37,451.96 L1114.55,451.1 L1113.75,450.36 L1112.96,449.76 L1112.22,449.3 L1111.52,448.99 L1110.89,448.84" fill="none" stroke="#222" stroke-width="0.45"/>
<path d="M1121.81,464.62 L1121.98,464.08 L1122.05,463.42 L1122.02,462.66 L1121.91,461.81 L1121.7,460.89 L1121.41,459.9 L1121.04,458.87 L1120.59,457.81 L1120.07,456.75 L1119.5,455.69 L1118.87,454.67 L1118.21,453.69 L1117.52,452.77 L1116.81,451.93 L1116.1,451.19 L1115.4,450.55 L1114.72,450.02 L1114.08,449.62 L1113.48,449.36 L1112.93,449.23" fill="none" stroke="#222" stroke-width="0.45"/>
<path d="M1104.28,447.97 L1114.99,449.52" fill="none" stroke="#000" stroke-width="0.5"/>
<path d="M1121.86,468.42 L1122.59,462.68" fill="none" stroke="#000" stroke-width="0.5"/>
<path d="M1115.95,448.97 L1116.47,448.83 L1117.1,448.97 L1117.81,449.37 L1118.57,450.03 L1119.35,450.91 L1120.12,451.98 L1120.85,453.2 L1121.52,454.53 L1122.1,455.9 L1122.56,457.28 L1122.89,458.61 L1123.08,459.83 L1123.12,460.9 L1123,461.78 L1122.74,462.43 L1122.33,462.83" fill="none" stroke="#000" stroke-width="1.28"/>
<circle cx="1115.95" cy="448.97" r="0.85" fill="#000"/>
<circle cx="1122.33" cy="462.83" r="0.85" fill="#000"/>
<path d="M1119.08,447.16 L1119.61,447.02 L1120.24,447.16 L1120.94,447.56 L1121.7,448.22 L1122.48,449.1 L1123.25,450.17 L1123.99,451.39 L1124.66,452.72 L1125.23,454.09 L1125.7,455.47 L1126.03,456.8 L1126.22,458.02 L1126.25,459.09 L1126.14,459.97 L1125.87,460.62 L1125.47,461.02" fill="none" stroke="#000" stroke-width="1.28"/>
<circle cx="1119.08" cy="447.16" r="0.85" fill="#000"/>
<circle cx="1125.47" cy="461.02" r="0.85" fill="#000"/>
<path d="M1122.22,445.35 L1122.74,445.21 L1123.37,445.35 L1124.08,445.75 L1124.84,446.41 L1125.62,447.29 L1126.39,448.36 L1127.12,449.58 L1127.79,450.91 L1128.37,452.28 L1128.83,453.66 L1129.16,454.99 L1129.35,456.21 L1129.39,457.28 L1129.27,458.16 L1129.01,458.81 L1128.6,459.21" fill="none" stroke="#000" stroke-width="1.28"/>
<circle cx="1122.22" cy="445.35" r="0.85" fill="#000"/>
<circle cx="1128.6" cy="459.21" r="0.85" fill="#000"/>
<path d="M1125.35,443.54 L1125.88,443.4 L1126.51,443.54 L1127.21,443.94 L1127.97,444.6 L1128.75,445.48 L1129.52,446.55 L1130.26,447.77 L1130.93,449.1 L1131.5,450.47 L1131.97,451.85 L1132.3,453.18 L1132.49,454.4 L1132.52,455.47 L1132.41,456.35 L1132.14,457 L1131.74,457.4" fill="none" stroke="#000" stroke-width="1.28"/>
<circle cx="1125.35" cy="443.54" r="0.85" fill="#000"/>
<circle cx="1131.74" cy="457.4" r="0.85" fill="#000"/>
<path d="M1128.49,441.73 L1129.01,441.59 L1129.64,441.73 L1130.35,442.13 L1131.11,442.79 L1131.89,443.67 L1132.66,444.74 L1133.39,445.96 L1134.06,447.29 L1134.64,448.66 L1135.1,450.04 L1135.43,451.37 L1135.62,452.59 L1135.66,453.66 L1135.54,454.54 L1135.28,455.19 L1134.87,455.59" fill="none" stroke="#000" stroke-width="1.28"/>
<circle cx="1128.49" cy="441.73" r="0.85" fill="#000"/>
<circle cx="1134.87" cy="455.59" r="0.85" fill="#000"/>
<path d="M1131.62,439.92 L1132.15,439.78 L1132.78,439.92 L1133.48,440.32 L1134.24,440.98 L1135.02,441.86 L1135.79,442.93 L1136.53,444.15 L1137.2,445.48 L1137.77,446.85 L1138.24,448.23 L1138.57,449.56 L1138.76,450.78 L1138.79,451.85 L1138.68,452.73 L1138.41,453.38 L1138.01,453.78" fill="none" stroke="#000" stroke-width="1.28"/>
<circle cx="1131.62" cy="439.92" r="0.85" fill="#000"/>
<circle cx="1138.01" cy="453.78" r="0.85" fill="#000"/>
<path d="M1134.76,438.11 L1135.28,437.97 L1135.91,438.11 L1136.62,438.51 L1137.38,439.17 L1138.16,440.05 L1138.93,441.12 L1139.66,442.34 L1140.33,443.67 L1140.91,445.04 L1141.37,446.42 L1141.7,447.75 L1141.89,448.97 L1141.93,450.04 L1141.81,450.92 L1141.55,451.57 L1141.14,451.97" fill="none" stroke="#000" stroke-width="1.28"/>
<circle cx="1134.76" cy="438.11" r="0.85" fill="#000"/>
<circle cx="1141.14" cy="451.97" r="0.85" fill="#000"/>
<path d="M1137.89,436.3 L1138.42,436.16 L1139.05,436.3 L1139.75,436.7 L1140.51,437.36 L1141.29,438.24 L1142.06,439.31 L1142.8,440.53 L1143.47,441.86 L1144.04,443.23 L1144.51,444.61 L1144.84,445.94 L1145.03,447.16 L1145.06,448.23 L1144.95,449.11 L1144.68,449.76 L1144.28,450.16" fill="none" stroke="#000" stroke-width="1.28"/>
<circle cx="1137.89" cy="436.3" r="0.85" fill="#000"/>
<circle cx="1144.28" cy="450.16" r="0.85" fill="#000"/>
<path d="M1141.03,434.49 L1141.55,434.35 L1142.18,434.49 L1142.89,434.89 L1143.65,435.55 L1144.43,436.43 L1145.2,437.5 L1145.93,438.72 L1146.6,440.05 L1147.18,441.42 L1147.64,442.8 L1147.97,444.13 L1148.16,445.35 L1148.2,446.42 L1148.08,447.3 L1147.82,447.95 L1147.41,448.35" fill="none" stroke="#000" stroke-width="1.28"/>
<circle cx="1141.03" cy="434.49" r="0.85" fill="#000"/>
<circle cx="1147.41" cy="448.35" r="0.85" fill="#000"/>
<path d="M1144.16,432.68 L1144.69,432.54 L1145.32,432.68 L1146.02,433.08 L1146.78,433.74 L1147.56,434.62 L1148.33,435.69 L1149.07,436.91 L1149.74,438.24 L1150.31,439.61 L1150.78,440.99 L1151.11,442.32 L1151.3,443.54 L1151.33,444.61 L1151.22,445.49 L1150.95,446.14 L1150.55,446.54" fill="none" stroke="#000" stroke-width="1.28"/>
<circle cx="1144.16" cy="432.68" r="0.85" fill="#000"/>
<circle cx="1150.55" cy="446.54" r="0.85" fill="#000"/>
<path d="M1147.3,430.87 L1147.82,430.73 L1148.45,430.87 L1149.16,431.27 L1149.92,431.93 L1150.7,432.81 L1151.47,433.88 L1152.2,435.1 L1152.87,436.43 L1153.45,437.8 L1153.91,439.18 L1154.24,440.51 L1154.43,441.73 L1154.47,442.8 L1154.35,443.68 L1154.09,444.33 L1153.68,444.73" fill="none" stroke="#000" stroke-width="1.28"/>
<circle cx="1147.3" cy="430.87" r="0.85" fill="#000"/>
<circle cx="1153.68" cy="444.73" r="0.85" fill="#000"/>
<path d="M1150.43,429.06 L1150.96,428.92 L1151.59,429.06 L1152.29,429.46 L1153.05,430.12 L1153.83,431 L1154.6,432.07 L1155.34,433.29 L1156.01,434.62 L1156.58,435.99 L1157.05,437.37 L1157.38,438.7 L1157.57,439.92 L1157.6,440.99 L1157.49,441.87 L1157.22,442.52 L1156.82,442.92" fill="none" stroke="#000" stroke-width="1.28"/>
<circle cx="1150.43" cy="429.06" r="0.85" fill="#000"/>
<circle cx="1156.82" cy="442.92" r="0.85" fill="#000"/>
<path d="M1153.57,427.25 L1154.09,427.11 L1154.72,427.25 L1155.43,427.65 L1156.19,428.31 L1156.97,429.19 L1157.74,430.26 L1158.47,431.48 L1159.14,432.81 L1159.72,434.18 L1160.18,435.56 L1160.51,436.89 L1160.7,438.11 L1160.74,439.18 L1160.62,440.06 L1160.36,440.71 L1159.95,441.11" fill="none" stroke="#000" stroke-width="1.28"/>
<circle cx="1153.57" cy="427.25" r="0.85" fill="#000"/>
<circle cx="1159.95" cy="441.11" r="0.85" fill="#000"/>
<path d="M1156.7,425.44 L1157.23,425.3 L1157.86,425.44 L1158.56,425.84 L1159.32,426.5 L1160.1,427.38 L1160.87,428.45 L1161.61,429.67 L1162.28,431 L1162.85,432.37 L1163.32,433.75 L1163.65,435.08 L1163.84,436.3 L1163.87,437.37 L1163.76,438.25 L1163.49,438.9 L1163.09,439.3" fill="none" stroke="#000" stroke-width="1.28"/>
<circle cx="1156.7" cy="425.44" r="0.85" fill="#000"/>
<circle cx="1163.09" cy="439.3" r="0.85" fill="#000"/>
<path d="M1159.84,423.63 L1160.36,423.49 L1160.99,423.63 L1161.7,424.03 L1162.46,424.69 L1163.24,425.57 L1164.01,426.64 L1164.74,427.86 L1165.41,429.19 L1165.99,430.56 L1166.45,431.94 L1166.78,433.27 L1166.97,434.49 L1167.01,435.56 L1166.89,436.44 L1166.63,437.09 L1166.22,437.49" fill="none" stroke="#000" stroke-width="1.28"/>
<circle cx="1159.84" cy="423.63" r="0.85" fill="#000"/>
<circle cx="1166.22" cy="437.49" r="0.85" fill="#000"/>
<path d="M1162.97,421.82 L1163.5,421.68 L1164.13,421.82 L1164.83,422.22 L1165.59,422.88 L1166.37,423.76 L1167.14,424.83 L1167.88,426.05 L1168.55,427.38 L1169.12,428.75 L1169.59,430.13 L1169.92,431.46 L1170.11,432.68 L1170.14,433.75 L1170.03,434.63 L1169.76,435.28 L1169.36,435.68" fill="none" stroke="#000" stroke-width="1.28"/>
<circle cx="1162.97" cy="421.82" r="0.85" fill="#000"/>
<circle cx="1169.36" cy="435.68" r="0.85" fill="#000"/>
<path d="M1166.11,420.01 L1166.63,419.87 L1167.26,420.01 L1167.97,420.41 L1168.73,421.07 L1169.51,421.95 L1170.28,423.02 L1171.01,424.24 L1171.68,425.57 L1172.26,426.94 L1172.72,428.32 L1173.05,429.65 L1173.24,430.87 L1173.28,431.94 L1173.16,432.82 L1172.9,433.47 L1172.49,433.87" fill="none" stroke="#000" stroke-width="1.28"/>
<circle cx="1166.11" cy="420.01" r="0.85" fill="#000"/>
<circle cx="1172.49" cy="433.87" r="0.85" fill="#000"/>
<path d="M1169.24,418.2 L1169.77,418.06 L1170.4,418.2 L1171.1,418.6 L1171.86,419.26 L1172.64,420.14 L1173.41,421.21 L1174.15,422.43 L1174.82,423.76 L1175.39,425.13 L1175.86,426.51 L1176.19,427.84 L1176.38,429.06 L1176.41,430.13 L1176.3,431.01 L1176.03,431.66 L1175.63,432.06" fill="none" stroke="#000" stroke-width="1.28"/>
<circle cx="1169.24" cy="418.2" r="0.85" fill="#000"/>
<circle cx="1175.63" cy="432.06" r="0.85" fill="#000"/>
<path d="M1172.38,416.39 L1172.9,416.25 L1173.53,416.39 L1174.24,416.79 L1175,417.45 L1175.78,418.33 L1176.55,419.4 L1177.28,420.62 L1177.95,421.95 L1178.53,423.32 L1178.99,424.7 L1179.32,426.03 L1179.51,427.25 L1179.55,428.32 L1179.43,429.2 L1179.17,429.85 L1178.76,430.25" fill="none" stroke="#000" stroke-width="1.28"/>
<circle cx="1172.38" cy="416.39" r="0.85" fill="#000"/>
<circle cx="1178.76" cy="430.25" r="0.85" fill="#000"/>
<path d="M1175.51,414.58 L1176.04,414.44 L1176.67,414.58 L1177.37,414.98 L1178.13,415.64 L1178.91,416.52 L1179.68,417.59 L1180.42,418.81 L1181.09,420.14 L1181.66,421.51 L1182.13,422.89 L1182.46,424.22 L1182.65,425.44 L1182.68,426.51 L1182.57,427.39 L1182.3,428.04 L1181.9,428.44" fill="none" stroke="#000" stroke-width="1.28"/>
<circle cx="1175.51" cy="414.58" r="0.85" fill="#000"/>
<circle cx="1181.9" cy="428.44" r="0.85" fill="#000"/>
<path d="M1178.65,412.77 L1179.17,412.63 L1179.8,412.77 L1180.51,413.17 L1181.27,413.83 L1182.05,414.71 L1182.82,415.78 L1183.55,417 L1184.22,418.33 L1184.8,419.7 L1185.26,421.08 L1185.59,422.41 L1185.78,423.63 L1185.82,424.7 L1185.7,425.58 L1185.44,426.23 L1185.03,426.63" fill="none" stroke="#000" stroke-width="1.28"/>
<circle cx="1178.65" cy="412.77" r="0.85" fill="#000"/>
<circle cx="1185.03" cy="426.63" r="0.85" fill="#000"/>
<path d="M1181.78,410.96 L1182.31,410.82 L1182.94,410.96 L1183.64,411.36 L1184.4,412.02 L1185.18,412.9 L1185.95,413.97 L1186.69,415.19 L1187.36,416.52 L1187.93,417.89 L1188.4,419.27 L1188.73,420.6 L1188.92,421.82 L1188.95,422.89 L1188.84,423.77 L1188.57,424.42 L1188.17,424.82" fill="none" stroke="#000" stroke-width="1.28"/>
<circle cx="1181.78" cy="410.96" r="0.85" fill="#000"/>
<circle cx="1188.17" cy="424.82" r="0.85" fill="#000"/>
<path d="M1185.51,410.43 L1186.02,410.27 L1186.62,410.34 L1187.27,410.62 L1187.95,411.12 L1188.64,411.8 L1189.31,412.65 L1189.94,413.63 L1190.49,414.71 L1190.95,415.83 L1191.31,416.97 L1191.54,418.07 L1191.63,419.1 L1191.6,420.01 L1191.42,420.77 L1191.13,421.35 L1190.71,421.73" fill="none" stroke="#000" stroke-width="1.28"/>
<circle cx="1185.51" cy="410.43" r="0.85" fill="#000"/>
<circle cx="1190.71" cy="421.73" r="0.85" fill="#000"/>
<path d="M1115.86,449.02 L1183.41,410.02" fill="none" stroke="#000" stroke-width="0.45"/>
<path d="M1122.16,462.93 L1192.67,422.05" fill="none" stroke="#000" stroke-width="0.45"/>
<path d="M1183.68,410.48 L1200.37,409 L1192.86,420.18" fill="none" stroke="#000" stroke-width="0.6"/>
<circle cx="1200.37" cy="409" r="0.9" fill="#000"/>
<path d="M1111.36,460.53 L1107.96,453.53 L1106.44,454.27 L1109.84,461.27" fill="none" stroke="#000" stroke-width="0.5"/>
<path d="M1109.76,461 L1110.66,468.6 L1112.34,468.4 L1111.44,460.8" fill="none" stroke="#000" stroke-width="0.5"/>
<path d="M1110.75,460.06 L1104.15,458.86 L1103.85,460.54 L1110.45,461.74" fill="none" stroke="#000" stroke-width="0.5"/>
<path d="M1110.42,461.73 L1115.02,462.73 L1115.38,461.07 L1110.78,460.07" fill="none" stroke="#000" stroke-width="0.5"/>
<circle cx="1111.1" cy="461.2" r="1.5" fill="#000"/>
</g>
<g transform="translate(0,91.7)">
<path d="M1118.17,473.03 L1118.87,472.54 L1119.48,471.91 L1119.99,471.17 L1120.41,470.31 L1120.72,469.34 L1120.93,468.27 L1121.02,467.13 L1121.01,465.91 L1120.89,464.63 L1120.66,463.31 L1120.33,461.95 L1119.89,460.59 L1119.35,459.22 L1118.73,457.87 L1118.01,456.55 L1117.23,455.27 L1116.37,454.05 L1115.45,452.91 L1114.49,451.85 L1113.49,450.88 L1112.46,450.02 L1111.41,449.27 L1110.36,448.65 L1109.32,448.17 L1108.29,447.81 L1107.3,447.6 L1106.34,447.53 L1105.44,447.6 L1104.6,447.82 L1103.82,448.17" fill="none" stroke="#000" stroke-width="0.8"/>
<path d="M1117.64,473.51 L1118.34,473.01 L1118.95,472.39 L1119.47,471.63 L1119.89,470.76 L1120.2,469.79 L1120.41,468.71 L1120.5,467.56 L1120.49,466.32 L1120.36,465.03 L1120.13,463.7 L1119.79,462.33 L1119.35,460.95 L1118.8,459.57 L1118.17,458.21 L1117.45,456.88 L1116.65,455.58 L1115.79,454.35 L1114.87,453.19 L1113.89,452.12 L1112.88,451.14 L1111.84,450.27 L1110.79,449.52 L1109.73,448.89 L1108.68,448.4 L1107.64,448.04 L1106.64,447.82 L1105.68,447.75 L1104.77,447.82 L1103.92,448.04 L1103.14,448.39" fill="none" stroke="#000" stroke-width="0.5"/>
<path d="M1117,473.99 L1117.86,473.35 L1118.59,472.5 L1119.16,471.46 L1119.57,470.25 L1119.81,468.89 L1119.88,467.39 L1119.78,465.79 L1119.5,464.12 L1119.05,462.4 L1118.45,460.66 L1117.69,458.94 L1116.8,457.25 L1115.79,455.63 L1114.67,454.12 L1113.47,452.72 L1112.2,451.48 L1110.89,450.4 L1109.56,449.51 L1108.23,448.82 L1106.93,448.35 L1105.67,448.1 L1104.49,448.08 L1103.39,448.28 L1102.4,448.71 L1101.54,449.35 L1100.81,450.2 L1100.24,451.24 L1099.83,452.45 L1099.59,453.81 L1099.52,455.31 L1099.62,456.91 L1099.9,458.58 L1100.35,460.3 L1100.95,462.04 L1101.71,463.76 L1102.6,465.45 L1103.61,467.07 L1104.73,468.58 L1105.93,469.98 L1107.2,471.22 L1108.51,472.3 L1109.84,473.19 L1111.17,473.88 L1112.47,474.35 L1113.73,474.6 L1114.91,474.62 L1116.01,474.42 L1117,473.99Z" fill="#fff" stroke="#000" stroke-width="0.75"/>
<path d="M1120.56,468.69 L1120.77,467.97 L1120.87,467.1 L1120.84,466.1 L1120.69,464.97 L1120.41,463.74 L1120.03,462.43 L1119.53,461.06 L1118.94,459.66 L1118.25,458.25 L1117.49,456.85 L1116.66,455.49 L1115.78,454.19 L1114.86,452.98 L1113.93,451.87 L1112.99,450.88 L1112.06,450.03 L1111.16,449.33 L1110.3,448.8 L1109.5,448.45 L1108.78,448.28" fill="none" stroke="#222" stroke-width="0.45"/>
<path d="M1121.13,466.57 L1121.32,465.95 L1121.4,465.2 L1121.37,464.32 L1121.24,463.34 L1121,462.27 L1120.67,461.14 L1120.24,459.95 L1119.72,458.73 L1119.12,457.51 L1118.46,456.29 L1117.74,455.11 L1116.98,453.98 L1116.18,452.92 L1115.37,451.96 L1114.55,451.1 L1113.75,450.36 L1112.96,449.76 L1112.22,449.3 L1111.52,448.99 L1110.89,448.84" fill="none" stroke="#222" stroke-width="0.45"/>
<path d="M1121.81,464.62 L1121.98,464.08 L1122.05,463.42 L1122.02,462.66 L1121.91,461.81 L1121.7,460.89 L1121.41,459.9 L1121.04,458.87 L1120.59,457.81 L1120.07,456.75 L1119.5,455.69 L1118.87,454.67 L1118.21,453.69 L1117.52,452.77 L1116.81,451.93 L1116.1,451.19 L1115.4,450.55 L1114.72,450.02 L1114.08,449.62 L1113.48,449.36 L1112.93,449.23" fill="none" stroke="#222" stroke-width="0.45"/>
<path d="M1104.28,447.97 L1114.99,449.52" fill="none" stroke="#000" stroke-width="0.5"/>
<path d="M1121.86,468.42 L1122.59,462.68" fill="none" stroke="#000" stroke-width="0.5"/>
<path d="M1115.95,448.97 L1116.47,448.83 L1117.1,448.97 L1117.81,449.37 L1118.57,450.03 L1119.35,450.91 L1120.12,451.98 L1120.85,453.2 L1121.52,454.53 L1122.1,455.9 L1122.56,457.28 L1122.89,458.61 L1123.08,459.83 L1123.12,460.9 L1123,461.78 L1122.74,462.43 L1122.33,462.83" fill="none" stroke="#000" stroke-width="1.28"/>
<circle cx="1115.95" cy="448.97" r="0.85" fill="#000"/>
<circle cx="1122.33" cy="462.83" r="0.85" fill="#000"/>
<path d="M1119.08,447.16 L1119.61,447.02 L1120.24,447.16 L1120.94,447.56 L1121.7,448.22 L1122.48,449.1 L1123.25,450.17 L1123.99,451.39 L1124.66,452.72 L1125.23,454.09 L1125.7,455.47 L1126.03,456.8 L1126.22,458.02 L1126.25,459.09 L1126.14,459.97 L1125.87,460.62 L1125.47,461.02" fill="none" stroke="#000" stroke-width="1.28"/>
<circle cx="1119.08" cy="447.16" r="0.85" fill="#000"/>
<circle cx="1125.47" cy="461.02" r="0.85" fill="#000"/>
<path d="M1122.22,445.35 L1122.74,445.21 L1123.37,445.35 L1124.08,445.75 L1124.84,446.41 L1125.62,447.29 L1126.39,448.36 L1127.12,449.58 L1127.79,450.91 L1128.37,452.28 L1128.83,453.66 L1129.16,454.99 L1129.35,456.21 L1129.39,457.28 L1129.27,458.16 L1129.01,458.81 L1128.6,459.21" fill="none" stroke="#000" stroke-width="1.28"/>
<circle cx="1122.22" cy="445.35" r="0.85" fill="#000"/>
<circle cx="1128.6" cy="459.21" r="0.85" fill="#000"/>
<path d="M1125.35,443.54 L1125.88,443.4 L1126.51,443.54 L1127.21,443.94 L1127.97,444.6 L1128.75,445.48 L1129.52,446.55 L1130.26,447.77 L1130.93,449.1 L1131.5,450.47 L1131.97,451.85 L1132.3,453.18 L1132.49,454.4 L1132.52,455.47 L1132.41,456.35 L1132.14,457 L1131.74,457.4" fill="none" stroke="#000" stroke-width="1.28"/>
<circle cx="1125.35" cy="443.54" r="0.85" fill="#000"/>
<circle cx="1131.74" cy="457.4" r="0.85" fill="#000"/>
<path d="M1128.49,441.73 L1129.01,441.59 L1129.64,441.73 L1130.35,442.13 L1131.11,442.79 L1131.89,443.67 L1132.66,444.74 L1133.39,445.96 L1134.06,447.29 L1134.64,448.66 L1135.1,450.04 L1135.43,451.37 L1135.62,452.59 L1135.66,453.66 L1135.54,454.54 L1135.28,455.19 L1134.87,455.59" fill="none" stroke="#000" stroke-width="1.28"/>
<circle cx="1128.49" cy="441.73" r="0.85" fill="#000"/>
<circle cx="1134.87" cy="455.59" r="0.85" fill="#000"/>
<path d="M1131.62,439.92 L1132.15,439.78 L1132.78,439.92 L1133.48,440.32 L1134.24,440.98 L1135.02,441.86 L1135.79,442.93 L1136.53,444.15 L1137.2,445.48 L1137.77,446.85 L1138.24,448.23 L1138.57,449.56 L1138.76,450.78 L1138.79,451.85 L1138.68,452.73 L1138.41,453.38 L1138.01,453.78" fill="none" stroke="#000" stroke-width="1.28"/>
<circle cx="1131.62" cy="439.92" r="0.85" fill="#000"/>
<circle cx="1138.01" cy="453.78" r="0.85" fill="#000"/>
<path d="M1134.76,438.11 L1135.28,437.97 L1135.91,438.11 L1136.62,438.51 L1137.38,439.17 L1138.16,440.05 L1138.93,441.12 L1139.66,442.34 L1140.33,443.67 L1140.91,445.04 L1141.37,446.42 L1141.7,447.75 L1141.89,448.97 L1141.93,450.04 L1141.81,450.92 L1141.55,451.57 L1141.14,451.97" fill="none" stroke="#000" stroke-width="1.28"/>
<circle cx="1134.76" cy="438.11" r="0.85" fill="#000"/>
<circle cx="1141.14" cy="451.97" r="0.85" fill="#000"/>
<path d="M1137.89,436.3 L1138.42,436.16 L1139.05,436.3 L1139.75,436.7 L1140.51,437.36 L1141.29,438.24 L1142.06,439.31 L1142.8,440.53 L1143.47,441.86 L1144.04,443.23 L1144.51,444.61 L1144.84,445.94 L1145.03,447.16 L1145.06,448.23 L1144.95,449.11 L1144.68,449.76 L1144.28,450.16" fill="none" stroke="#000" stroke-width="1.28"/>
<circle cx="1137.89" cy="436.3" r="0.85" fill="#000"/>
<circle cx="1144.28" cy="450.16" r="0.85" fill="#000"/>
<path d="M1141.03,434.49 L1141.55,434.35 L1142.18,434.49 L1142.89,434.89 L1143.65,435.55 L1144.43,436.43 L1145.2,437.5 L1145.93,438.72 L1146.6,440.05 L1147.18,441.42 L1147.64,442.8 L1147.97,444.13 L1148.16,445.35 L1148.2,446.42 L1148.08,447.3 L1147.82,447.95 L1147.41,448.35" fill="none" stroke="#000" stroke-width="1.28"/>
<circle cx="1141.03" cy="434.49" r="0.85" fill="#000"/>
<circle cx="1147.41" cy="448.35" r="0.85" fill="#000"/>
<path d="M1144.16,432.68 L1144.69,432.54 L1145.32,432.68 L1146.02,433.08 L1146.78,433.74 L1147.56,434.62 L1148.33,435.69 L1149.07,436.91 L1149.74,438.24 L1150.31,439.61 L1150.78,440.99 L1151.11,442.32 L1151.3,443.54 L1151.33,444.61 L1151.22,445.49 L1150.95,446.14 L1150.55,446.54" fill="none" stroke="#000" stroke-width="1.28"/>
<circle cx="1144.16" cy="432.68" r="0.85" fill="#000"/>
<circle cx="1150.55" cy="446.54" r="0.85" fill="#000"/>
<path d="M1147.3,430.87 L1147.82,430.73 L1148.45,430.87 L1149.16,431.27 L1149.92,431.93 L1150.7,432.81 L1151.47,433.88 L1152.2,435.1 L1152.87,436.43 L1153.45,437.8 L1153.91,439.18 L1154.24,440.51 L1154.43,441.73 L1154.47,442.8 L1154.35,443.68 L1154.09,444.33 L1153.68,444.73" fill="none" stroke="#000" stroke-width="1.28"/>
<circle cx="1147.3" cy="430.87" r="0.85" fill="#000"/>
<circle cx="1153.68" cy="444.73" r="0.85" fill="#000"/>
<path d="M1150.43,429.06 L1150.96,428.92 L1151.59,429.06 L1152.29,429.46 L1153.05,430.12 L1153.83,431 L1154.6,432.07 L1155.34,433.29 L1156.01,434.62 L1156.58,435.99 L1157.05,437.37 L1157.38,438.7 L1157.57,439.92 L1157.6,440.99 L1157.49,441.87 L1157.22,442.52 L1156.82,442.92" fill="none" stroke="#000" stroke-width="1.28"/>
<circle cx="1150.43" cy="429.06" r="0.85" fill="#000"/>
<circle cx="1156.82" cy="442.92" r="0.85" fill="#000"/>
<path d="M1153.57,427.25 L1154.09,427.11 L1154.72,427.25 L1155.43,427.65 L1156.19,428.31 L1156.97,429.19 L1157.74,430.26 L1158.47,431.48 L1159.14,432.81 L1159.72,434.18 L1160.18,435.56 L1160.51,436.89 L1160.7,438.11 L1160.74,439.18 L1160.62,440.06 L1160.36,440.71 L1159.95,441.11" fill="none" stroke="#000" stroke-width="1.28"/>
<circle cx="1153.57" cy="427.25" r="0.85" fill="#000"/>
<circle cx="1159.95" cy="441.11" r="0.85" fill="#000"/>
<path d="M1156.7,425.44 L1157.23,425.3 L1157.86,425.44 L1158.56,425.84 L1159.32,426.5 L1160.1,427.38 L1160.87,428.45 L1161.61,429.67 L1162.28,431 L1162.85,432.37 L1163.32,433.75 L1163.65,435.08 L1163.84,436.3 L1163.87,437.37 L1163.76,438.25 L1163.49,438.9 L1163.09,439.3" fill="none" stroke="#000" stroke-width="1.28"/>
<circle cx="1156.7" cy="425.44" r="0.85" fill="#000"/>
<circle cx="1163.09" cy="439.3" r="0.85" fill="#000"/>
<path d="M1159.84,423.63 L1160.36,423.49 L1160.99,423.63 L1161.7,424.03 L1162.46,424.69 L1163.24,425.57 L1164.01,426.64 L1164.74,427.86 L1165.41,429.19 L1165.99,430.56 L1166.45,431.94 L1166.78,433.27 L1166.97,434.49 L1167.01,435.56 L1166.89,436.44 L1166.63,437.09 L1166.22,437.49" fill="none" stroke="#000" stroke-width="1.28"/>
<circle cx="1159.84" cy="423.63" r="0.85" fill="#000"/>
<circle cx="1166.22" cy="437.49" r="0.85" fill="#000"/>
<path d="M1162.97,421.82 L1163.5,421.68 L1164.13,421.82 L1164.83,422.22 L1165.59,422.88 L1166.37,423.76 L1167.14,424.83 L1167.88,426.05 L1168.55,427.38 L1169.12,428.75 L1169.59,430.13 L1169.92,431.46 L1170.11,432.68 L1170.14,433.75 L1170.03,434.63 L1169.76,435.28 L1169.36,435.68" fill="none" stroke="#000" stroke-width="1.28"/>
<circle cx="1162.97" cy="421.82" r="0.85" fill="#000"/>
<circle cx="1169.36" cy="435.68" r="0.85" fill="#000"/>
<path d="M1166.11,420.01 L1166.63,419.87 L1167.26,420.01 L1167.97,420.41 L1168.73,421.07 L1169.51,421.95 L1170.28,423.02 L1171.01,424.24 L1171.68,425.57 L1172.26,426.94 L1172.72,428.32 L1173.05,429.65 L1173.24,430.87 L1173.28,431.94 L1173.16,432.82 L1172.9,433.47 L1172.49,433.87" fill="none" stroke="#000" stroke-width="1.28"/>
<circle cx="1166.11" cy="420.01" r="0.85" fill="#000"/>
<circle cx="1172.49" cy="433.87" r="0.85" fill="#000"/>
<path d="M1169.24,418.2 L1169.77,418.06 L1170.4,418.2 L1171.1,418.6 L1171.86,419.26 L1172.64,420.14 L1173.41,421.21 L1174.15,422.43 L1174.82,423.76 L1175.39,425.13 L1175.86,426.51 L1176.19,427.84 L1176.38,429.06 L1176.41,430.13 L1176.3,431.01 L1176.03,431.66 L1175.63,432.06" fill="none" stroke="#000" stroke-width="1.28"/>
<circle cx="1169.24" cy="418.2" r="0.85" fill="#000"/>
<circle cx="1175.63" cy="432.06" r="0.85" fill="#000"/>
<path d="M1172.38,416.39 L1172.9,416.25 L1173.53,416.39 L1174.24,416.79 L1175,417.45 L1175.78,418.33 L1176.55,419.4 L1177.28,420.62 L1177.95,421.95 L1178.53,423.32 L1178.99,424.7 L1179.32,426.03 L1179.51,427.25 L1179.55,428.32 L1179.43,429.2 L1179.17,429.85 L1178.76,430.25" fill="none" stroke="#000" stroke-width="1.28"/>
<circle cx="1172.38" cy="416.39" r="0.85" fill="#000"/>
<circle cx="1178.76" cy="430.25" r="0.85" fill="#000"/>
<path d="M1175.51,414.58 L1176.04,414.44 L1176.67,414.58 L1177.37,414.98 L1178.13,415.64 L1178.91,416.52 L1179.68,417.59 L1180.42,418.81 L1181.09,420.14 L1181.66,421.51 L1182.13,422.89 L1182.46,424.22 L1182.65,425.44 L1182.68,426.51 L1182.57,427.39 L1182.3,428.04 L1181.9,428.44" fill="none" stroke="#000" stroke-width="1.28"/>
<circle cx="1175.51" cy="414.58" r="0.85" fill="#000"/>
<circle cx="1181.9" cy="428.44" r="0.85" fill="#000"/>
<path d="M1178.65,412.77 L1179.17,412.63 L1179.8,412.77 L1180.51,413.17 L1181.27,413.83 L1182.05,414.71 L1182.82,415.78 L1183.55,417 L1184.22,418.33 L1184.8,419.7 L1185.26,421.08 L1185.59,422.41 L1185.78,423.63 L1185.82,424.7 L1185.7,425.58 L1185.44,426.23 L1185.03,426.63" fill="none" stroke="#000" stroke-width="1.28"/>
<circle cx="1178.65" cy="412.77" r="0.85" fill="#000"/>
<circle cx="1185.03" cy="426.63" r="0.85" fill="#000"/>
<path d="M1181.78,410.96 L1182.31,410.82 L1182.94,410.96 L1183.64,411.36 L1184.4,412.02 L1185.18,412.9 L1185.95,413.97 L1186.69,415.19 L1187.36,416.52 L1187.93,417.89 L1188.4,419.27 L1188.73,420.6 L1188.92,421.82 L1188.95,422.89 L1188.84,423.77 L1188.57,424.42 L1188.17,424.82" fill="none" stroke="#000" stroke-width="1.28"/>
<circle cx="1181.78" cy="410.96" r="0.85" fill="#000"/>
<circle cx="1188.17" cy="424.82" r="0.85" fill="#000"/>
<path d="M1185.51,410.43 L1186.02,410.27 L1186.62,410.34 L1187.27,410.62 L1187.95,411.12 L1188.64,411.8 L1189.31,412.65 L1189.94,413.63 L1190.49,414.71 L1190.95,415.83 L1191.31,416.97 L1191.54,418.07 L1191.63,419.1 L1191.6,420.01 L1191.42,420.77 L1191.13,421.35 L1190.71,421.73" fill="none" stroke="#000" stroke-width="1.28"/>
<circle cx="1185.51" cy="410.43" r="0.85" fill="#000"/>
<circle cx="1190.71" cy="421.73" r="0.85" fill="#000"/>
<path d="M1115.86,449.02 L1183.41,410.02" fill="none" stroke="#000" stroke-width="0.45"/>
<path d="M1122.16,462.93 L1192.67,422.05" fill="none" stroke="#000" stroke-width="0.45"/>
<path d="M1183.68,410.48 L1200.37,409 L1192.86,420.18" fill="none" stroke="#000" stroke-width="0.6"/>
<circle cx="1200.37" cy="409" r="0.9" fill="#000"/>
<path d="M1111.36,460.53 L1107.96,453.53 L1106.44,454.27 L1109.84,461.27" fill="none" stroke="#000" stroke-width="0.5"/>
<path d="M1109.76,461 L1110.66,468.6 L1112.34,468.4 L1111.44,460.8" fill="none" stroke="#000" stroke-width="0.5"/>
<path d="M1110.75,460.06 L1104.15,458.86 L1103.85,460.54 L1110.45,461.74" fill="none" stroke="#000" stroke-width="0.5"/>
<path d="M1110.42,461.73 L1115.02,462.73 L1115.38,461.07 L1110.78,460.07" fill="none" stroke="#000" stroke-width="0.5"/>
<circle cx="1111.1" cy="461.2" r="1.5" fill="#000"/>
</g>
<path d="M1349.75,473.88 L1351.68,472.65 L1353.5,471.24 L1355.2,469.65 L1356.79,467.9 L1358.25,465.99 L1359.59,463.91 L1360.79,461.69 L1361.86,459.31 L1362.8,456.8 L1363.59,454.15 L1364.24,451.38 L1364.75,448.48 L1365.11,445.48 L1365.33,442.38 L1365.4,439.18 L1365.32,435.9 L1365.09,432.54 L1364.72,429.11 L1364.21,425.62 L1363.55,422.09 L1362.75,418.52 L1361.81,414.92 L1360.73,411.31 L1359.52,407.68 L1358.18,404.06 L1356.71,400.44 L1355.12,396.85 L1353.4,393.29 L1351.58,389.77 L1349.65,386.3 L1347.61,382.89 L1345.47,379.55 L1343.24,376.29 L1340.93,373.11 L1338.53,370.03 L1336.07,367.06 L1333.53,364.2 L1330.94,361.45 L1328.29,358.84 L1325.6,356.36 L1322.87,354.03 L1320.11,351.84 L1317.33,349.8 L1314.53,347.93 L1311.73,346.22 L1308.92,344.68 L1306.12,343.32 L1303.34,342.13 L1300.58,341.12 L1297.86,340.3 L1295.17,339.66 L1292.52,339.21 L1289.93,338.95 L1287.4,338.88 L1284.94,339 L1282.55,339.31 L1280.24,339.81 L1278.01,340.49 L1275.88,341.37 L1273.85,342.42 L1271.92,343.65 L1270.1,345.06 L1268.4,346.65 L1266.81,348.4 L1265.35,350.31 L1264.01,352.39 L1262.81,354.61 L1261.74,356.99 L1260.8,359.5 L1260.01,362.15 L1259.36,364.92 L1258.85,367.82 L1258.49,370.82 L1258.27,373.92 L1258.2,377.12 L1258.28,380.4 L1258.51,383.76 L1258.88,387.19 L1259.39,390.68 L1260.05,394.21 L1260.85,397.78 L1261.79,401.38 L1262.87,404.99 L1264.08,408.62 L1265.42,412.24 L1266.89,415.86 L1268.48,419.45 L1270.2,423.01 L1272.02,426.53 L1273.95,430 L1275.99,433.41 L1278.13,436.75 L1280.36,440.01 L1282.67,443.19 L1285.07,446.27 L1287.53,449.24 L1290.07,452.1 L1292.66,454.85 L1295.31,457.46 L1298,459.94 L1300.73,462.27 L1303.49,464.46 L1306.27,466.5 L1309.07,468.37 L1311.87,470.08 L1314.68,471.62 L1317.48,472.98 L1320.26,474.17 L1323.02,475.18 L1325.74,476 L1328.43,476.64 L1331.08,477.09 L1333.67,477.35 L1336.2,477.42 L1338.66,477.3 L1341.05,476.99 L1343.36,476.49 L1345.59,475.81 L1347.72,474.93 L1349.75,473.88Z" fill="#fff" stroke="#111" stroke-width="0.82"/>
<path d="M1340.05,479.48 L1341.98,478.25 L1343.8,476.84 L1345.5,475.25 L1347.09,473.5 L1348.55,471.59 L1349.89,469.51 L1351.09,467.29 L1352.16,464.91 L1353.1,462.4 L1353.89,459.75 L1354.54,456.98 L1355.05,454.08 L1355.41,451.08 L1355.63,447.98 L1355.7,444.78 L1355.62,441.5 L1355.39,438.14 L1355.02,434.71 L1354.51,431.22 L1353.85,427.69 L1353.05,424.12 L1352.11,420.52 L1351.03,416.91 L1349.82,413.28 L1348.48,409.66 L1347.01,406.04 L1345.42,402.45 L1343.7,398.89 L1341.88,395.37 L1339.95,391.9 L1337.91,388.49 L1335.77,385.15 L1333.54,381.89 L1331.23,378.71 L1328.83,375.63 L1326.37,372.66 L1323.83,369.8 L1321.24,367.05 L1318.59,364.44 L1315.9,361.96 L1313.17,359.63 L1310.41,357.44 L1307.63,355.4 L1304.83,353.53 L1302.03,351.82 L1299.22,350.28 L1296.42,348.92 L1293.64,347.73 L1290.88,346.72 L1288.16,345.9 L1285.47,345.26 L1282.82,344.81 L1280.23,344.55 L1277.7,344.48 L1275.24,344.6 L1272.85,344.91 L1270.54,345.41 L1268.31,346.09 L1266.18,346.97 L1264.15,348.02 L1262.22,349.25 L1260.4,350.66 L1258.7,352.25 L1257.11,354 L1255.65,355.91 L1254.31,357.99 L1253.11,360.21 L1252.04,362.59 L1251.1,365.1 L1250.31,367.75 L1249.66,370.52 L1249.15,373.42 L1248.79,376.42 L1248.57,379.52 L1248.5,382.72 L1248.58,386 L1248.81,389.36 L1249.18,392.79 L1249.69,396.28 L1250.35,399.81 L1251.15,403.38 L1252.09,406.98 L1253.17,410.59 L1254.38,414.22 L1255.72,417.84 L1257.19,421.46 L1258.78,425.05 L1260.5,428.61 L1262.32,432.13 L1264.25,435.6 L1266.29,439.01 L1268.43,442.35 L1270.66,445.61 L1272.97,448.79 L1275.37,451.87 L1277.83,454.84 L1280.37,457.7 L1282.96,460.45 L1285.61,463.06 L1288.3,465.54 L1291.03,467.87 L1293.79,470.06 L1296.57,472.1 L1299.37,473.97 L1302.17,475.68 L1304.98,477.22 L1307.78,478.58 L1310.56,479.77 L1313.32,480.78 L1316.04,481.6 L1318.73,482.24 L1321.38,482.69 L1323.97,482.95 L1326.5,483.02 L1328.96,482.9 L1331.35,482.59 L1333.66,482.09 L1335.89,481.41 L1338.02,480.53 L1340.05,479.48Z" fill="#fff" stroke="#111" stroke-width="0.82"/>
<path d="M1340.05,479.48 L1349.75,473.88" fill="none" stroke="#111" stroke-width="0.82"/>
<path d="M1264.15,348.02 L1273.85,342.42" fill="none" stroke="#111" stroke-width="0.82"/>
<path d="M1306.55,465.26 L1307.1,464.86 L1307.57,464.34 L1307.95,463.71 L1308.23,462.97 L1308.41,462.16 L1308.49,461.27 L1308.46,460.32 L1308.33,459.33 L1308.09,458.31 L1307.75,457.29 L1307.32,456.28 L1306.8,455.3 L1306.21,454.36 L1305.55,453.48 L1304.83,452.68 L1304.08,451.97 L1303.29,451.36 L1302.48,450.86 L1301.67,450.48 L1300.87,450.22 L1300.1,450.1 L1299.36,450.12 L1298.67,450.26 L1298.05,450.54 L1297.5,450.94 L1297.03,451.46 L1296.65,452.09 L1296.37,452.82 L1296.19,453.64 L1296.11,454.53 L1296.14,455.48 L1296.27,456.47 L1296.51,457.49 L1296.85,458.51 L1297.28,459.52 L1297.8,460.5 L1298.39,461.44 L1299.05,462.32 L1299.77,463.12 L1300.52,463.83 L1301.31,464.44 L1302.12,464.94 L1302.93,465.32 L1303.73,465.57 L1304.5,465.7 L1305.24,465.68 L1305.93,465.54 L1306.55,465.26Z" fill="none" stroke="#111" stroke-width="0.82"/>
<path d="M1296.3,359.75 L1295.54,359.37 L1294.79,359.11 L1294.06,358.97 L1293.38,358.97 L1292.74,359.09 L1292.17,359.34 L1291.66,359.71 L1291.24,360.2 L1290.9,360.8 L1290.65,361.49 L1290.5,362.27 L1290.45,363.12 L1290.5,364.03 L1290.65,364.99 L1290.9,365.97 L1291.24,366.95 L1291.66,367.93 L1292.17,368.89 L1292.74,369.8 L1293.38,370.66 L1294.06,371.44 L1294.79,372.15 L1295.54,372.75 L1296.3,373.25 L1307,379.55 L1307.76,379.93 L1308.51,380.19 L1309.24,380.33 L1309.92,380.33 L1310.56,380.21 L1311.13,379.96 L1311.64,379.59 L1312.06,379.1 L1312.4,378.5 L1312.65,377.81 L1312.8,377.03 L1312.85,376.18 L1312.8,375.27 L1312.65,374.31 L1312.4,373.33 L1312.06,372.35 L1311.64,371.37 L1311.13,370.41 L1310.56,369.5 L1309.92,368.64 L1309.24,367.86 L1308.51,367.15 L1307.76,366.55 L1307,366.05Z" fill="none" stroke="#111" stroke-width="0.82"/>
<path d="M1296.3,373.25 L1305.9,367.75" fill="none" stroke="#111" stroke-width="0.82"/>
<path d="M1300.7,361.85 L1300.76,361.97 L1300.83,362.12 L1300.92,362.3 L1301.01,362.51 L1301.12,362.73 L1301.24,362.95 L1301.37,363.18 L1301.5,363.4 L1301.64,363.62 L1301.78,363.85 L1301.94,364.08 L1302.1,364.32 L1302.28,364.56 L1302.47,364.81 L1302.67,365.06 L1302.9,365.3 L1303.17,365.56 L1303.49,365.84 L1303.83,366.13 L1304.19,366.42 L1304.53,366.69 L1304.85,366.94 L1305.11,367.15 L1305.3,367.3 L1312.4,371.3" fill="none" stroke="#111" stroke-width="0.82"/>
<path d="M1308.5,380.4 L1308.66,380.26 L1308.86,380.06 L1309.11,379.83 L1309.38,379.58 L1309.68,379.32 L1309.98,379.06 L1310.29,378.81 L1310.6,378.6 L1310.93,378.4 L1311.3,378.21 L1311.69,378.02 L1312.08,377.84 L1312.46,377.67 L1312.8,377.52 L1313.09,377.4 L1313.3,377.3" fill="none" stroke="#111" stroke-width="0.82"/>
<path d="M1213.6,437.4 L1280.5,398.8 L1280.5,377.1 L1323.3,401.5 L1323.3,450.9 L1304.6,439.8 L1237.6,478.5 L1213.6,464.7Z" fill="#fff" stroke="none"/>
<path d="M1213.6,437.4 L1237.6,450.7 L1237.6,478.5 L1213.6,464.7Z" fill="none" stroke="#111" stroke-width="0.82"/>
<path d="M1213.6,437.4 L1280.5,398.8 L1304.6,412.4 L1237.6,450.7" fill="none" stroke="#111" stroke-width="0.82"/>
<path d="M1237.6,478.5 L1304.6,439.8 L1304.6,412.4" fill="none" stroke="#111" stroke-width="0.82"/>
<path d="M1280.5,398.8 L1280.5,377.1 L1323.3,401.5 L1323.3,450.9 L1304.6,439.8" fill="none" stroke="#111" stroke-width="0.82"/>
<path d="M1304.6,412.4 L1323.3,401.5" fill="none" stroke="#111" stroke-width="0.82"/>
<path d="M1280.5,377.1 Q1289.8,388 1280.5,398.8" fill="none" stroke="#111" stroke-width="0.82"/>
<path d="M1304.6,439.5 Q1316,436.4 1323.3,450.3" fill="none" stroke="#111" stroke-width="0.82"/>
<g transform="translate(0,0)">
<path d="M1388.49,301.96 L1403.46,295.29 L1455.97,266.24 L1458.66,265.5 L1459.94,266.72 L1470.16,261.22 L1470.51,261.06 L1471,260.82 L1471.56,260.57 L1472.11,260.39 L1472.6,260.26 L1473.09,260.16 L1473.63,260.11 L1474.26,260.12 L1475.04,260.21 L1475.91,260.36 L1476.81,260.57 L1477.69,260.86 L1478.55,261.23 L1479.4,261.69 L1480.23,262.2 L1480.99,262.77 L1481.68,263.39 L1482.31,264.07 L1482.89,264.8 L1483.39,265.53 L1483.82,266.31 L1484.18,267.11 L1484.49,267.92 L1484.75,268.68 L1484.97,269.38 L1485.14,270.05 L1485.27,270.7 L1485.35,271.33 L1485.39,271.94 L1485.38,272.54 L1485.32,273.12 L1485.23,273.71 L1485.09,274.32 L1484.9,274.94 L1484.68,275.55 L1484.43,276.13 L1484.11,276.74 L1483.73,277.36 L1483.37,277.9 L1483.13,278.27 L1482.86,282.81 L1448.91,304.61 L1411.66,328.89 L1406.71,322.51Z" fill="#fff" stroke="none"/>
<path d="M1470.16,261.22 L1470.51,261.06 L1471,260.82 L1471.56,260.57 L1472.11,260.39 L1472.6,260.26 L1473.09,260.16 L1473.63,260.11 L1474.26,260.12 L1475.04,260.21 L1475.91,260.36 L1476.81,260.57 L1477.69,260.86 L1478.55,261.23 L1479.4,261.69 L1480.23,262.2 L1480.99,262.77 L1481.68,263.39 L1482.31,264.07 L1482.89,264.8 L1483.39,265.53 L1483.82,266.31 L1484.18,267.11 L1484.49,267.92 L1484.75,268.68 L1484.97,269.38 L1485.14,270.05 L1485.27,270.7 L1485.35,271.33 L1485.39,271.94 L1485.38,272.54 L1485.32,273.12 L1485.23,273.71 L1485.09,274.32 L1484.9,274.94 L1484.68,275.55 L1484.43,276.13 L1484.11,276.74 L1483.73,277.36 L1483.37,277.9 L1483.13,278.27" fill="none" stroke="#0a0a0a" stroke-width="0.74"/>
<path d="M1470.16,261.22 L1470.64,261.34 L1471.32,261.5 L1472.09,261.73 L1472.83,262.05 L1473.54,262.47 L1474.26,262.98 L1474.97,263.54 L1475.65,264.12 L1476.28,264.69 L1476.88,265.29 L1477.45,265.92 L1477.99,266.58 L1478.49,267.27 L1478.95,267.99 L1479.38,268.73 L1479.78,269.47 L1480.14,270.21 L1480.47,270.95 L1480.76,271.7 L1481.03,272.44 L1481.28,273.15 L1481.51,273.85 L1481.69,274.57 L1481.79,275.35 L1481.76,276.32 L1481.64,277.41 L1481.5,278.4 L1481.41,279.09" fill="none" stroke="#0a0a0a" stroke-width="0.74"/>
<path d="M1454.26,269.88 L1470.16,261.22" fill="none" stroke="#0a0a0a" stroke-width="0.74"/>
<path d="M1388.49,301.96 L1403.46,295.29 L1458.45,265.73" fill="none" stroke="#0a0a0a" stroke-width="0.74"/>
<path d="M1413.21,288.97 L1415.83,287.51 L1417.45,289.12 L1414.83,290.58 L1413.21,288.97" fill="none" stroke="#0a0a0a" stroke-width="0.74"/>
<path d="M1422.46,284 L1425.09,282.54 L1426.71,284.15 L1424.08,285.6 L1422.46,284" fill="none" stroke="#0a0a0a" stroke-width="0.74"/>
<path d="M1431.72,279.03 L1434.34,277.57 L1435.96,279.17 L1433.34,280.63 L1431.72,279.03" fill="none" stroke="#0a0a0a" stroke-width="0.74"/>
<path d="M1440.97,274.05 L1443.59,272.6 L1445.21,274.2 L1442.59,275.66 L1440.97,274.05" fill="none" stroke="#0a0a0a" stroke-width="0.74"/>
<path d="M1450.22,269.08 L1452.85,267.62 L1454.47,269.23 L1451.84,270.69 L1450.22,269.08" fill="none" stroke="#0a0a0a" stroke-width="0.74"/>
<path d="M1460.02,266.44 L1459.35,263.09 L1461.82,261.77 L1464.32,264.3" fill="none" stroke="#0a0a0a" stroke-width="0.74"/>
<path d="M1459.35,263.09 L1461.8,265.53" fill="none" stroke="#0a0a0a" stroke-width="0.74"/>
<path d="M1394.62,302.58 L1410.5,296.07" fill="none" stroke="#0a0a0a" stroke-width="0.74"/>
<path d="M1451.8,272.81 L1410.24,296.22 L1409.88,297.81 L1411.41,298.66 L1453.49,274.95" fill="none" stroke="#0a0a0a" stroke-width="0.74"/>
<path d="M1411.41,298.66 L1413.89,299.54 L1415.94,299.51 L1456.06,276.58 L1457.38,274.08 L1456.06,272.19 L1453.83,273.13 L1451.8,272.81" fill="none" stroke="#0a0a0a" stroke-width="0.74"/>
<path d="M1453.49,274.95 L1453.83,273.13" fill="none" stroke="#0a0a0a" stroke-width="0.74"/>
<path d="M1412.01,293.7 L1451.28,271.72" fill="none" stroke="#0a0a0a" stroke-width="1.3" stroke-dasharray="0.55 1.05" stroke-linecap="butt"/>
<path d="M1411,292.95 L1451.14,270.47" fill="none" stroke="#0a0a0a" stroke-width="0.5"/>
<circle cx="1474.5" cy="271.6" r="1.85" fill="none" stroke="#0a0a0a" stroke-width="0.85"/>
<circle cx="1465.2" cy="276.97" r="1.85" fill="none" stroke="#0a0a0a" stroke-width="0.85"/>
<circle cx="1455.9" cy="282.34" r="1.85" fill="none" stroke="#0a0a0a" stroke-width="0.85"/>
<circle cx="1446.6" cy="287.71" r="1.85" fill="none" stroke="#0a0a0a" stroke-width="0.85"/>
<circle cx="1437.3" cy="293.08" r="1.85" fill="none" stroke="#0a0a0a" stroke-width="0.85"/>
<circle cx="1428" cy="298.45" r="1.85" fill="none" stroke="#0a0a0a" stroke-width="0.85"/>
<path d="M1405.58,318.95 L1477.21,277.02 L1481.41,279.09" fill="none" stroke="#0a0a0a" stroke-width="0.74"/>
<path d="M1411.7,324.25 L1419.2,319.7" fill="none" stroke="#0a0a0a" stroke-width="0.74"/>
<path d="M1412.1,328.4 L1419.6,323.4" fill="none" stroke="#0a0a0a" stroke-width="0.74"/>
<path d="M1411.7,324.25 L1412.1,328.4" fill="none" stroke="#0a0a0a" stroke-width="0.8"/>
<path d="M1419.2,319.7 L1419.6,323.4" fill="none" stroke="#0a0a0a" stroke-width="0.8"/>
<path d="M1420.8,320.1 L1428.75,311.1" fill="none" stroke="#0a0a0a" stroke-width="0.74"/>
<path d="M1421.25,322.6 L1429.2,314.7" fill="none" stroke="#0a0a0a" stroke-width="0.74"/>
<path d="M1420.8,320.1 L1421.25,322.6" fill="none" stroke="#0a0a0a" stroke-width="0.8"/>
<path d="M1428.75,311.1 L1429.2,314.7" fill="none" stroke="#0a0a0a" stroke-width="0.8"/>
<path d="M1419.2,319.7 L1420.8,320.1" fill="none" stroke="#0a0a0a" stroke-width="0.9"/>
<path d="M1419.6,323.4 L1421.25,322.6" fill="none" stroke="#0a0a0a" stroke-width="0.9"/>
<path d="M1430.8,310.7 L1439.6,304.7" fill="none" stroke="#0a0a0a" stroke-width="0.74"/>
<path d="M1430.8,313.4 L1440,308.4" fill="none" stroke="#0a0a0a" stroke-width="0.74"/>
<path d="M1430.8,310.7 L1430.8,313.4" fill="none" stroke="#0a0a0a" stroke-width="0.8"/>
<path d="M1439.6,304.7 L1440,308.4" fill="none" stroke="#0a0a0a" stroke-width="0.8"/>
<path d="M1428.75,311.1 L1430.8,310.7" fill="none" stroke="#0a0a0a" stroke-width="0.9"/>
<path d="M1429.2,314.7 L1430.8,313.4" fill="none" stroke="#0a0a0a" stroke-width="0.9"/>
<path d="M1441.25,304.7 L1449.6,298.4" fill="none" stroke="#0a0a0a" stroke-width="0.74"/>
<path d="M1441.25,307.6 L1450,302.2" fill="none" stroke="#0a0a0a" stroke-width="0.74"/>
<path d="M1441.25,304.7 L1441.25,307.6" fill="none" stroke="#0a0a0a" stroke-width="0.8"/>
<path d="M1449.6,298.4 L1450,302.2" fill="none" stroke="#0a0a0a" stroke-width="0.8"/>
<path d="M1439.6,304.7 L1441.25,304.7" fill="none" stroke="#0a0a0a" stroke-width="0.9"/>
<path d="M1440,308.4 L1441.25,307.6" fill="none" stroke="#0a0a0a" stroke-width="0.9"/>
<path d="M1451.7,298 L1460,292.2" fill="none" stroke="#0a0a0a" stroke-width="0.74"/>
<path d="M1451.7,301.3 L1460.4,295.9" fill="none" stroke="#0a0a0a" stroke-width="0.74"/>
<path d="M1451.7,298 L1451.7,301.3" fill="none" stroke="#0a0a0a" stroke-width="0.8"/>
<path d="M1460,292.2 L1460.4,295.9" fill="none" stroke="#0a0a0a" stroke-width="0.8"/>
<path d="M1449.6,298.4 L1451.7,298" fill="none" stroke="#0a0a0a" stroke-width="0.9"/>
<path d="M1450,302.2 L1451.7,301.3" fill="none" stroke="#0a0a0a" stroke-width="0.9"/>
<path d="M1461.4,291.6 L1470.6,285.3" fill="none" stroke="#0a0a0a" stroke-width="0.74"/>
<path d="M1461.6,295.1 L1471.4,289.1" fill="none" stroke="#0a0a0a" stroke-width="0.74"/>
<path d="M1461.4,291.6 L1461.6,295.1" fill="none" stroke="#0a0a0a" stroke-width="0.8"/>
<path d="M1470.6,285.3 L1471.4,289.1" fill="none" stroke="#0a0a0a" stroke-width="0.8"/>
<path d="M1460,292.2 L1461.4,291.6" fill="none" stroke="#0a0a0a" stroke-width="0.9"/>
<path d="M1460.4,295.9 L1461.6,295.1" fill="none" stroke="#0a0a0a" stroke-width="0.9"/>
<path d="M1470.6,285.3 L1481.4,279.5" fill="none" stroke="#0a0a0a" stroke-width="0.74"/>
<path d="M1472.25,289.1 L1482.7,282.8" fill="none" stroke="#0a0a0a" stroke-width="0.74"/>
<path d="M1470.6,285.3 L1472.25,289.1" fill="none" stroke="#0a0a0a" stroke-width="0.8"/>
<path d="M1481.4,279.5 L1482.7,282.8" fill="none" stroke="#0a0a0a" stroke-width="0.8"/>
<path d="M1470.6,285.3 L1470.6,285.3" fill="none" stroke="#0a0a0a" stroke-width="0.9"/>
<path d="M1471.4,289.1 L1472.25,289.1" fill="none" stroke="#0a0a0a" stroke-width="0.9"/>
<circle cx="1466.8" cy="292.1" r="0.8" fill="#000"/>
<path d="M1407.5,323.4 L1411.7,325.1 L1411.7,328.4 L1407.5,326.75 L1407.5,323.4" fill="none" stroke="#0a0a0a" stroke-width="0.74"/>
<path d="M1405.6,324.3 L1407.5,323.4" fill="none" stroke="#0a0a0a" stroke-width="0.9"/>
<path d="M1405.6,326.6 L1407.5,326.75" fill="none" stroke="#0a0a0a" stroke-width="0.9"/>
<path d="M1401.65,334.42 L1402.78,333.59 L1403.75,332.51 L1404.52,331.19 L1405.09,329.68 L1405.45,327.97 L1405.6,326.12 L1405.52,324.14 L1405.23,322.07 L1404.72,319.96 L1404,317.82 L1403.1,315.71 L1402.02,313.65 L1400.78,311.68 L1399.4,309.84 L1397.91,308.16 L1396.33,306.66 L1394.68,305.37 L1393.01,304.32 L1391.33,303.51 L1389.68,302.97 L1388.07,302.71 L1386.55,302.73 L1385.14,303.02 L1383.85,303.58 L1382.72,304.41 L1381.75,305.49 L1380.98,306.81 L1380.41,308.32 L1380.05,310.03 L1379.9,311.88 L1379.98,313.86 L1380.27,315.93 L1380.78,318.04 L1381.5,320.18 L1382.4,322.29 L1383.48,324.35 L1384.72,326.32 L1386.1,328.16 L1387.59,329.84 L1389.17,331.34 L1390.82,332.63 L1392.49,333.68 L1394.17,334.49 L1395.82,335.03 L1397.43,335.29 L1398.95,335.27 L1400.36,334.98 L1401.65,334.42Z" fill="#fff" stroke="#0a0a0a" stroke-width="0.74"/>
<path d="M1398.05,336.52 L1399.18,335.69 L1400.15,334.61 L1400.92,333.29 L1401.49,331.78 L1401.85,330.07 L1402,328.22 L1401.92,326.24 L1401.63,324.17 L1401.12,322.06 L1400.4,319.92 L1399.5,317.81 L1398.42,315.75 L1397.18,313.78 L1395.8,311.94 L1394.31,310.26 L1392.73,308.76 L1391.08,307.47 L1389.41,306.42 L1387.73,305.61 L1386.08,305.07 L1384.47,304.81 L1382.95,304.83 L1381.54,305.12 L1380.25,305.68 L1379.12,306.51 L1378.15,307.59 L1377.38,308.91 L1376.81,310.43 L1376.45,312.13 L1376.3,313.98 L1376.38,315.96 L1376.67,318.03 L1377.18,320.14 L1377.9,322.28 L1378.8,324.39 L1379.88,326.45 L1381.12,328.42 L1382.5,330.26 L1383.99,331.94 L1385.58,333.44 L1387.22,334.73 L1388.89,335.78 L1390.57,336.59 L1392.22,337.13 L1393.83,337.39 L1395.35,337.37 L1396.76,337.08 L1398.05,336.52Z" fill="#fff" stroke="#0a0a0a" stroke-width="0.74"/>
<path d="M1393.25,328.46 L1393.78,328.07 L1394.23,327.56 L1394.58,326.94 L1394.85,326.23 L1395.01,325.42 L1395.07,324.54 L1395.02,323.6 L1394.88,322.62 L1394.63,321.61 L1394.28,320.59 L1393.85,319.58 L1393.33,318.6 L1392.74,317.66 L1392.08,316.78 L1391.37,315.97 L1390.62,315.25 L1389.85,314.64 L1389.06,314.13 L1388.26,313.74 L1387.48,313.48 L1386.73,313.34 L1386.02,313.34 L1385.35,313.48 L1384.75,313.74 L1384.22,314.13 L1383.77,314.64 L1383.42,315.26 L1383.15,315.98 L1382.99,316.78 L1382.93,317.66 L1382.98,318.6 L1383.12,319.58 L1383.37,320.59 L1383.72,321.61 L1384.15,322.62 L1384.67,323.6 L1385.26,324.54 L1385.92,325.42 L1386.63,326.23 L1387.38,326.95 L1388.15,327.56 L1388.94,328.07 L1389.74,328.46 L1390.52,328.73 L1391.27,328.86 L1391.98,328.86 L1392.65,328.72 L1393.25,328.46Z" fill="none" stroke="#0a0a0a" stroke-width="0.74"/>
<circle cx="1378.9" cy="306.9" r="0.75" fill="#000"/>
<circle cx="1388.9" cy="301.7" r="0.75" fill="#000"/>
<circle cx="1403.3" cy="295.6" r="0.75" fill="#000"/>
</g>
<g transform="translate(0,88)">
<path d="M1388.49,301.96 L1403.46,295.29 L1455.97,266.24 L1458.66,265.5 L1459.94,266.72 L1470.16,261.22 L1470.51,261.06 L1471,260.82 L1471.56,260.57 L1472.11,260.39 L1472.6,260.26 L1473.09,260.16 L1473.63,260.11 L1474.26,260.12 L1475.04,260.21 L1475.91,260.36 L1476.81,260.57 L1477.69,260.86 L1478.55,261.23 L1479.4,261.69 L1480.23,262.2 L1480.99,262.77 L1481.68,263.39 L1482.31,264.07 L1482.89,264.8 L1483.39,265.53 L1483.82,266.31 L1484.18,267.11 L1484.49,267.92 L1484.75,268.68 L1484.97,269.38 L1485.14,270.05 L1485.27,270.7 L1485.35,271.33 L1485.39,271.94 L1485.38,272.54 L1485.32,273.12 L1485.23,273.71 L1485.09,274.32 L1484.9,274.94 L1484.68,275.55 L1484.43,276.13 L1484.11,276.74 L1483.73,277.36 L1483.37,277.9 L1483.13,278.27 L1482.86,282.81 L1448.91,304.61 L1411.66,328.89 L1406.71,322.51Z" fill="#fff" stroke="none"/>
<path d="M1470.16,261.22 L1470.51,261.06 L1471,260.82 L1471.56,260.57 L1472.11,260.39 L1472.6,260.26 L1473.09,260.16 L1473.63,260.11 L1474.26,260.12 L1475.04,260.21 L1475.91,260.36 L1476.81,260.57 L1477.69,260.86 L1478.55,261.23 L1479.4,261.69 L1480.23,262.2 L1480.99,262.77 L1481.68,263.39 L1482.31,264.07 L1482.89,264.8 L1483.39,265.53 L1483.82,266.31 L1484.18,267.11 L1484.49,267.92 L1484.75,268.68 L1484.97,269.38 L1485.14,270.05 L1485.27,270.7 L1485.35,271.33 L1485.39,271.94 L1485.38,272.54 L1485.32,273.12 L1485.23,273.71 L1485.09,274.32 L1484.9,274.94 L1484.68,275.55 L1484.43,276.13 L1484.11,276.74 L1483.73,277.36 L1483.37,277.9 L1483.13,278.27" fill="none" stroke="#0a0a0a" stroke-width="0.74"/>
<path d="M1470.16,261.22 L1470.64,261.34 L1471.32,261.5 L1472.09,261.73 L1472.83,262.05 L1473.54,262.47 L1474.26,262.98 L1474.97,263.54 L1475.65,264.12 L1476.28,264.69 L1476.88,265.29 L1477.45,265.92 L1477.99,266.58 L1478.49,267.27 L1478.95,267.99 L1479.38,268.73 L1479.78,269.47 L1480.14,270.21 L1480.47,270.95 L1480.76,271.7 L1481.03,272.44 L1481.28,273.15 L1481.51,273.85 L1481.69,274.57 L1481.79,275.35 L1481.76,276.32 L1481.64,277.41 L1481.5,278.4 L1481.41,279.09" fill="none" stroke="#0a0a0a" stroke-width="0.74"/>
<path d="M1454.26,269.88 L1470.16,261.22" fill="none" stroke="#0a0a0a" stroke-width="0.74"/>
<path d="M1388.49,301.96 L1403.46,295.29 L1458.45,265.73" fill="none" stroke="#0a0a0a" stroke-width="0.74"/>
<path d="M1413.21,288.97 L1415.83,287.51 L1417.45,289.12 L1414.83,290.58 L1413.21,288.97" fill="none" stroke="#0a0a0a" stroke-width="0.74"/>
<path d="M1422.46,284 L1425.09,282.54 L1426.71,284.15 L1424.08,285.6 L1422.46,284" fill="none" stroke="#0a0a0a" stroke-width="0.74"/>
<path d="M1431.72,279.03 L1434.34,277.57 L1435.96,279.17 L1433.34,280.63 L1431.72,279.03" fill="none" stroke="#0a0a0a" stroke-width="0.74"/>
<path d="M1440.97,274.05 L1443.59,272.6 L1445.21,274.2 L1442.59,275.66 L1440.97,274.05" fill="none" stroke="#0a0a0a" stroke-width="0.74"/>
<path d="M1450.22,269.08 L1452.85,267.62 L1454.47,269.23 L1451.84,270.69 L1450.22,269.08" fill="none" stroke="#0a0a0a" stroke-width="0.74"/>
<path d="M1460.02,266.44 L1459.35,263.09 L1461.82,261.77 L1464.32,264.3" fill="none" stroke="#0a0a0a" stroke-width="0.74"/>
<path d="M1459.35,263.09 L1461.8,265.53" fill="none" stroke="#0a0a0a" stroke-width="0.74"/>
<path d="M1394.62,302.58 L1410.5,296.07" fill="none" stroke="#0a0a0a" stroke-width="0.74"/>
<path d="M1451.8,272.81 L1410.24,296.22 L1409.88,297.81 L1411.41,298.66 L1453.49,274.95" fill="none" stroke="#0a0a0a" stroke-width="0.74"/>
<path d="M1411.41,298.66 L1413.89,299.54 L1415.94,299.51 L1456.06,276.58 L1457.38,274.08 L1456.06,272.19 L1453.83,273.13 L1451.8,272.81" fill="none" stroke="#0a0a0a" stroke-width="0.74"/>
<path d="M1453.49,274.95 L1453.83,273.13" fill="none" stroke="#0a0a0a" stroke-width="0.74"/>
<path d="M1412.01,293.7 L1451.28,271.72" fill="none" stroke="#0a0a0a" stroke-width="1.3" stroke-dasharray="0.55 1.05" stroke-linecap="butt"/>
<path d="M1411,292.95 L1451.14,270.47" fill="none" stroke="#0a0a0a" stroke-width="0.5"/>
<circle cx="1474.5" cy="271.6" r="1.85" fill="none" stroke="#0a0a0a" stroke-width="0.85"/>
<circle cx="1465.2" cy="276.97" r="1.85" fill="none" stroke="#0a0a0a" stroke-width="0.85"/>
<circle cx="1455.9" cy="282.34" r="1.85" fill="none" stroke="#0a0a0a" stroke-width="0.85"/>
<circle cx="1446.6" cy="287.71" r="1.85" fill="none" stroke="#0a0a0a" stroke-width="0.85"/>
<circle cx="1437.3" cy="293.08" r="1.85" fill="none" stroke="#0a0a0a" stroke-width="0.85"/>
<circle cx="1428" cy="298.45" r="1.85" fill="none" stroke="#0a0a0a" stroke-width="0.85"/>
<path d="M1405.58,318.95 L1477.21,277.02 L1481.41,279.09" fill="none" stroke="#0a0a0a" stroke-width="0.74"/>
<path d="M1411.7,324.25 L1419.2,319.7" fill="none" stroke="#0a0a0a" stroke-width="0.74"/>
<path d="M1412.1,328.4 L1419.6,323.4" fill="none" stroke="#0a0a0a" stroke-width="0.74"/>
<path d="M1411.7,324.25 L1412.1,328.4" fill="none" stroke="#0a0a0a" stroke-width="0.8"/>
<path d="M1419.2,319.7 L1419.6,323.4" fill="none" stroke="#0a0a0a" stroke-width="0.8"/>
<path d="M1420.8,320.1 L1428.75,311.1" fill="none" stroke="#0a0a0a" stroke-width="0.74"/>
<path d="M1421.25,322.6 L1429.2,314.7" fill="none" stroke="#0a0a0a" stroke-width="0.74"/>
<path d="M1420.8,320.1 L1421.25,322.6" fill="none" stroke="#0a0a0a" stroke-width="0.8"/>
<path d="M1428.75,311.1 L1429.2,314.7" fill="none" stroke="#0a0a0a" stroke-width="0.8"/>
<path d="M1419.2,319.7 L1420.8,320.1" fill="none" stroke="#0a0a0a" stroke-width="0.9"/>
<path d="M1419.6,323.4 L1421.25,322.6" fill="none" stroke="#0a0a0a" stroke-width="0.9"/>
<path d="M1430.8,310.7 L1439.6,304.7" fill="none" stroke="#0a0a0a" stroke-width="0.74"/>
<path d="M1430.8,313.4 L1440,308.4" fill="none" stroke="#0a0a0a" stroke-width="0.74"/>
<path d="M1430.8,310.7 L1430.8,313.4" fill="none" stroke="#0a0a0a" stroke-width="0.8"/>
<path d="M1439.6,304.7 L1440,308.4" fill="none" stroke="#0a0a0a" stroke-width="0.8"/>
<path d="M1428.75,311.1 L1430.8,310.7" fill="none" stroke="#0a0a0a" stroke-width="0.9"/>
<path d="M1429.2,314.7 L1430.8,313.4" fill="none" stroke="#0a0a0a" stroke-width="0.9"/>
<path d="M1441.25,304.7 L1449.6,298.4" fill="none" stroke="#0a0a0a" stroke-width="0.74"/>
<path d="M1441.25,307.6 L1450,302.2" fill="none" stroke="#0a0a0a" stroke-width="0.74"/>
<path d="M1441.25,304.7 L1441.25,307.6" fill="none" stroke="#0a0a0a" stroke-width="0.8"/>
<path d="M1449.6,298.4 L1450,302.2" fill="none" stroke="#0a0a0a" stroke-width="0.8"/>
<path d="M1439.6,304.7 L1441.25,304.7" fill="none" stroke="#0a0a0a" stroke-width="0.9"/>
<path d="M1440,308.4 L1441.25,307.6" fill="none" stroke="#0a0a0a" stroke-width="0.9"/>
<path d="M1451.7,298 L1460,292.2" fill="none" stroke="#0a0a0a" stroke-width="0.74"/>
<path d="M1451.7,301.3 L1460.4,295.9" fill="none" stroke="#0a0a0a" stroke-width="0.74"/>
<path d="M1451.7,298 L1451.7,301.3" fill="none" stroke="#0a0a0a" stroke-width="0.8"/>
<path d="M1460,292.2 L1460.4,295.9" fill="none" stroke="#0a0a0a" stroke-width="0.8"/>
<path d="M1449.6,298.4 L1451.7,298" fill="none" stroke="#0a0a0a" stroke-width="0.9"/>
<path d="M1450,302.2 L1451.7,301.3" fill="none" stroke="#0a0a0a" stroke-width="0.9"/>
<path d="M1461.4,291.6 L1470.6,285.3" fill="none" stroke="#0a0a0a" stroke-width="0.74"/>
<path d="M1461.6,295.1 L1471.4,289.1" fill="none" stroke="#0a0a0a" stroke-width="0.74"/>
<path d="M1461.4,291.6 L1461.6,295.1" fill="none" stroke="#0a0a0a" stroke-width="0.8"/>
<path d="M1470.6,285.3 L1471.4,289.1" fill="none" stroke="#0a0a0a" stroke-width="0.8"/>
<path d="M1460,292.2 L1461.4,291.6" fill="none" stroke="#0a0a0a" stroke-width="0.9"/>
<path d="M1460.4,295.9 L1461.6,295.1" fill="none" stroke="#0a0a0a" stroke-width="0.9"/>
<path d="M1470.6,285.3 L1481.4,279.5" fill="none" stroke="#0a0a0a" stroke-width="0.74"/>
<path d="M1472.25,289.1 L1482.7,282.8" fill="none" stroke="#0a0a0a" stroke-width="0.74"/>
<path d="M1470.6,285.3 L1472.25,289.1" fill="none" stroke="#0a0a0a" stroke-width="0.8"/>
<path d="M1481.4,279.5 L1482.7,282.8" fill="none" stroke="#0a0a0a" stroke-width="0.8"/>
<path d="M1470.6,285.3 L1470.6,285.3" fill="none" stroke="#0a0a0a" stroke-width="0.9"/>
<path d="M1471.4,289.1 L1472.25,289.1" fill="none" stroke="#0a0a0a" stroke-width="0.9"/>
<circle cx="1466.8" cy="292.1" r="0.8" fill="#000"/>
<path d="M1407.5,323.4 L1411.7,325.1 L1411.7,328.4 L1407.5,326.75 L1407.5,323.4" fill="none" stroke="#0a0a0a" stroke-width="0.74"/>
<path d="M1405.6,324.3 L1407.5,323.4" fill="none" stroke="#0a0a0a" stroke-width="0.9"/>
<path d="M1405.6,326.6 L1407.5,326.75" fill="none" stroke="#0a0a0a" stroke-width="0.9"/>
<path d="M1401.65,334.42 L1402.78,333.59 L1403.75,332.51 L1404.52,331.19 L1405.09,329.68 L1405.45,327.97 L1405.6,326.12 L1405.52,324.14 L1405.23,322.07 L1404.72,319.96 L1404,317.82 L1403.1,315.71 L1402.02,313.65 L1400.78,311.68 L1399.4,309.84 L1397.91,308.16 L1396.33,306.66 L1394.68,305.37 L1393.01,304.32 L1391.33,303.51 L1389.68,302.97 L1388.07,302.71 L1386.55,302.73 L1385.14,303.02 L1383.85,303.58 L1382.72,304.41 L1381.75,305.49 L1380.98,306.81 L1380.41,308.32 L1380.05,310.03 L1379.9,311.88 L1379.98,313.86 L1380.27,315.93 L1380.78,318.04 L1381.5,320.18 L1382.4,322.29 L1383.48,324.35 L1384.72,326.32 L1386.1,328.16 L1387.59,329.84 L1389.17,331.34 L1390.82,332.63 L1392.49,333.68 L1394.17,334.49 L1395.82,335.03 L1397.43,335.29 L1398.95,335.27 L1400.36,334.98 L1401.65,334.42Z" fill="#fff" stroke="#0a0a0a" stroke-width="0.74"/>
<path d="M1398.05,336.52 L1399.18,335.69 L1400.15,334.61 L1400.92,333.29 L1401.49,331.78 L1401.85,330.07 L1402,328.22 L1401.92,326.24 L1401.63,324.17 L1401.12,322.06 L1400.4,319.92 L1399.5,317.81 L1398.42,315.75 L1397.18,313.78 L1395.8,311.94 L1394.31,310.26 L1392.73,308.76 L1391.08,307.47 L1389.41,306.42 L1387.73,305.61 L1386.08,305.07 L1384.47,304.81 L1382.95,304.83 L1381.54,305.12 L1380.25,305.68 L1379.12,306.51 L1378.15,307.59 L1377.38,308.91 L1376.81,310.43 L1376.45,312.13 L1376.3,313.98 L1376.38,315.96 L1376.67,318.03 L1377.18,320.14 L1377.9,322.28 L1378.8,324.39 L1379.88,326.45 L1381.12,328.42 L1382.5,330.26 L1383.99,331.94 L1385.58,333.44 L1387.22,334.73 L1388.89,335.78 L1390.57,336.59 L1392.22,337.13 L1393.83,337.39 L1395.35,337.37 L1396.76,337.08 L1398.05,336.52Z" fill="#fff" stroke="#0a0a0a" stroke-width="0.74"/>
<path d="M1393.25,328.46 L1393.78,328.07 L1394.23,327.56 L1394.58,326.94 L1394.85,326.23 L1395.01,325.42 L1395.07,324.54 L1395.02,323.6 L1394.88,322.62 L1394.63,321.61 L1394.28,320.59 L1393.85,319.58 L1393.33,318.6 L1392.74,317.66 L1392.08,316.78 L1391.37,315.97 L1390.62,315.25 L1389.85,314.64 L1389.06,314.13 L1388.26,313.74 L1387.48,313.48 L1386.73,313.34 L1386.02,313.34 L1385.35,313.48 L1384.75,313.74 L1384.22,314.13 L1383.77,314.64 L1383.42,315.26 L1383.15,315.98 L1382.99,316.78 L1382.93,317.66 L1382.98,318.6 L1383.12,319.58 L1383.37,320.59 L1383.72,321.61 L1384.15,322.62 L1384.67,323.6 L1385.26,324.54 L1385.92,325.42 L1386.63,326.23 L1387.38,326.95 L1388.15,327.56 L1388.94,328.07 L1389.74,328.46 L1390.52,328.73 L1391.27,328.86 L1391.98,328.86 L1392.65,328.72 L1393.25,328.46Z" fill="none" stroke="#0a0a0a" stroke-width="0.74"/>
<circle cx="1378.9" cy="306.9" r="0.75" fill="#000"/>
<circle cx="1388.9" cy="301.7" r="0.75" fill="#000"/>
<circle cx="1403.3" cy="295.6" r="0.75" fill="#000"/>
</g>
</svg>
</body>
</html>
